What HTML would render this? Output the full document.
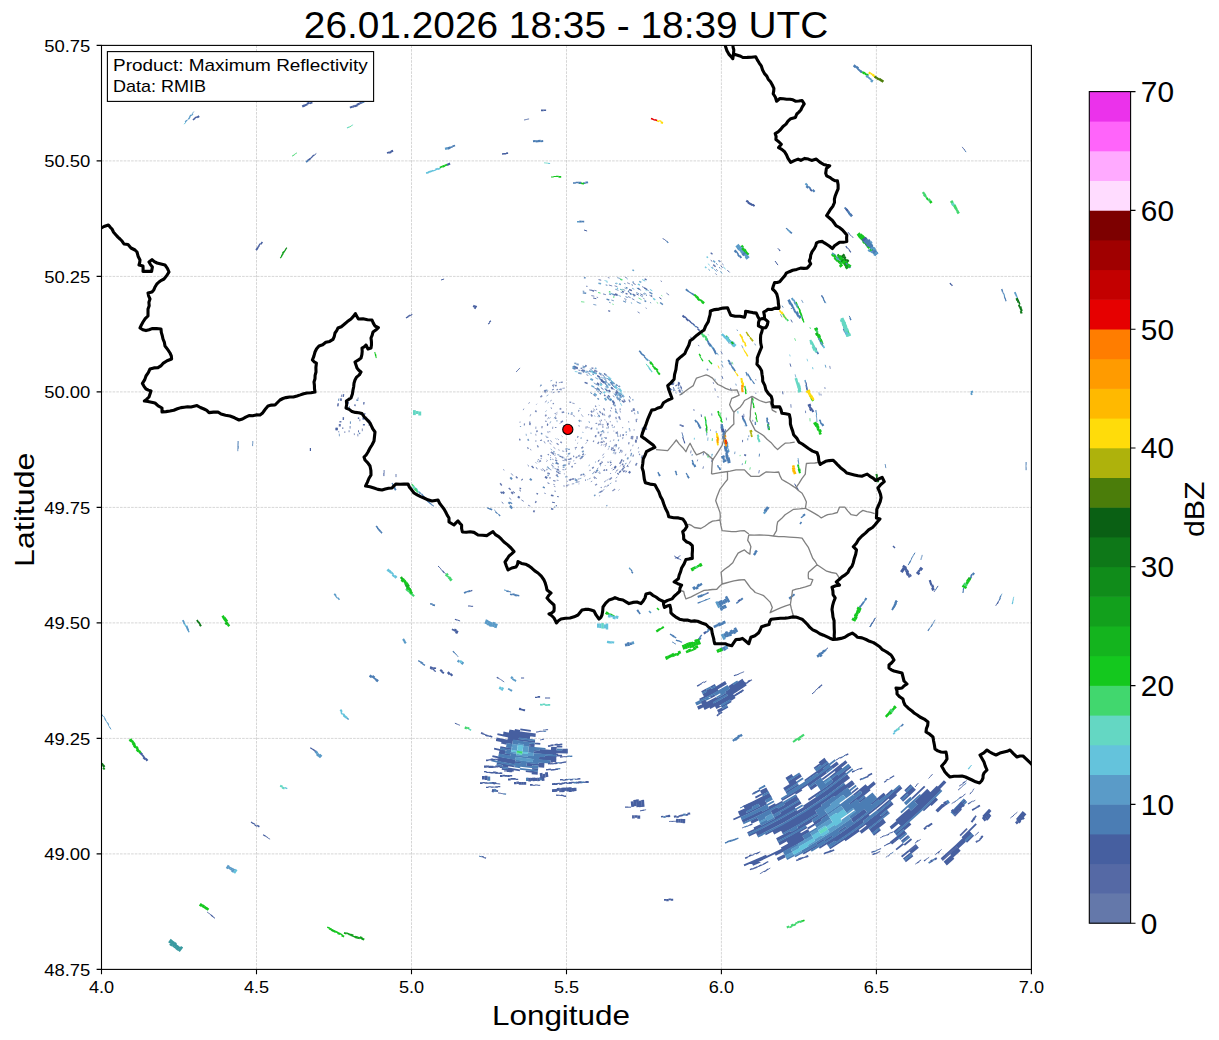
<!DOCTYPE html>
<html><head><meta charset="utf-8"><title>Radar Maximum Reflectivity</title>
<style>html,body{margin:0;padding:0;background:#fff}svg{display:block}text{font-family:"Liberation Sans",sans-serif}</style></head><body>
<svg width="1219" height="1040" viewBox="0 0 1219 1040">
<rect width="1219" height="1040" fill="#fff"/>
<clipPath id="ax"><rect x="101.5" y="45.4" width="929.9" height="924.0"/></clipPath>
<g clip-path="url(#ax)">
<path d="M256.5 45.4V969.4M411.5 45.4V969.4M566.5 45.4V969.4M721.4 45.4V969.4M876.4 45.4V969.4M101.5 853.9H1031.4M101.5 738.4H1031.4M101.5 622.9H1031.4M101.5 507.4H1031.4M101.5 391.9H1031.4M101.5 276.4H1031.4M101.5 160.9H1031.4" fill="none" stroke="#b0b0b0" stroke-opacity="0.75" stroke-width="0.7" stroke-dasharray="2.6 1.1"/>
<g id="radar">
<path d="M556.5 414.5L557.3 413.9M562.5 436.6L561.6 435.8M541.9 434.7L541.5 432.7M559.8 423.8L560.8 422.5M551.1 444.6L549.6 442.8M578.1 442.8L577.2 443.5M555.4 416.2L556.1 415.6M581.2 414.5L582.6 415.9M548.1 433.1L547.9 431.1M580.7 420.2L581.4 421.4M570.4 414.1L572.6 414.6M573.0 415.5L574.9 416.4M555.4 448.7L553.4 447.2M551.9 442.3L550.4 440.2M552.6 428.9L552.8 426.7M535.8 428.9L535.9 426.6M572.3 403.1L574.6 403.6M582.4 415.8L583.1 416.6M566.3 449.2L565.4 449.1" fill="none" stroke="#465fa0" stroke-width="0.8" stroke-opacity="0.75"/>
<path d="M547.6 419.2L548.8 417.1M570.1 453.8L568.3 453.9M547.2 425.0L547.6 423.2M558.9 439.9L557.6 438.7M548.1 437.7L547.7 436.7M586.6 442.4L585.7 443.6M549.9 432.3L549.7 431.0M578.8 425.0L579.3 426.7M556.2 413.1L557.4 412.3M588.9 427.0L589.0 428.2M576.0 439.8L575.2 440.4M585.8 426.6L586.0 428.8" fill="none" stroke="#5569a5" stroke-width="0.8" stroke-opacity="0.75"/>
<path d="M588.9 421.1L589.6 423.0M546.5 437.4L545.9 435.7M580.5 455.9L579.3 456.5M554.0 418.2L555.3 416.7M549.5 418.6L550.4 417.3M547.5 403.1L548.9 402.0M575.9 449.1L575.1 449.4M549.9 423.3L550.8 421.3M556.5 439.4L555.6 438.3" fill="none" stroke="#4b7db4" stroke-width="0.8" stroke-opacity="0.75"/>
<path d="M545.7 421.7L546.1 420.8M555.1 418.8L556.3 417.6M587.7 439.9L587.0 441.0M587.1 426.5L587.2 427.5M560.8 422.3L562.9 420.8M548.6 441.5L547.9 440.3M578.3 410.5L579.2 411.1M555.7 428.0L555.8 427.2M583.2 446.9L581.4 448.4M561.7 412.6L564.2 411.9" fill="none" stroke="#465fa0" stroke-width="1.6" stroke-opacity="0.75"/>
<path d="M568.0 413.5L569.1 413.5M578.8 420.0L580.1 421.8M541.7 434.2L541.5 433.2M571.2 412.8L572.6 413.2" fill="none" stroke="#4b7db4" stroke-width="1.6" stroke-opacity="0.75"/>
<path d="M569.4 402.2L571.2 402.4M558.6 444.7L556.6 443.3M547.4 425.9L547.8 424.0M554.8 413.9L555.6 413.3M578.3 436.2L577.3 437.6M547.3 437.9L547.0 437.1" fill="none" stroke="#465fa0" stroke-width="1.2000000000000002" stroke-opacity="0.75"/>
<path d="M559.6 409.2L561.3 408.5M561.9 442.7L560.3 441.9M577.2 457.2L575.6 457.7" fill="none" stroke="#5569a5" stroke-width="1.6" stroke-opacity="0.75"/>
<path d="M583.0 431.8L582.8 432.6M567.7 448.9L565.7 448.8M569.9 449.3L568.1 449.4M579.6 408.3L580.4 408.8M556.6 421.3L557.3 420.4M581.5 437.5L580.7 438.7" fill="none" stroke="#4b7db4" stroke-width="1.2000000000000002" stroke-opacity="0.75"/>
<path d="M563.3 426.2L563.8 425.5" fill="none" stroke="#5569a5" stroke-width="1.2000000000000002" stroke-opacity="0.75"/>
<path d="M602.1 437.7L601.6 439.6M601.3 431.0L601.2 432.4M598.9 415.1L599.7 416.9" fill="none" stroke="#4b7db4" stroke-width="1.2000000000000002" stroke-opacity="0.75"/>
<path d="M591.0 414.4L592.3 416.5M598.6 431.6L598.4 433.6M596.3 422.9L596.4 423.8M595.9 435.1L595.4 437.2M591.3 428.0L591.3 429.4M591.0 410.7L592.3 412.4M606.2 437.2L605.8 438.9" fill="none" stroke="#465fa0" stroke-width="1.6" stroke-opacity="0.75"/>
<path d="M603.9 431.6L603.8 433.2M597.8 416.2L598.2 417.2M597.2 412.7L597.9 413.9M604.3 444.2L603.7 445.4M601.2 419.5L601.7 421.1M608.3 426.1L608.4 428.4M601.8 433.5L601.6 434.7M598.3 423.6L598.7 425.6M600.7 423.5L601.0 425.2M606.4 421.4L606.7 422.6M610.5 440.6L610.2 441.8M593.5 408.6L594.9 410.6M591.8 427.1L591.9 428.6M601.9 444.2L601.2 445.7M603.9 413.5L604.9 415.8" fill="none" stroke="#465fa0" stroke-width="0.8" stroke-opacity="0.75"/>
<path d="M601.5 441.3L600.8 443.1M606.6 442.9L605.7 445.3M602.6 424.6L602.7 425.4M593.4 411.3L593.9 412.0M593.9 440.4L593.2 442.0M608.8 415.6L609.2 416.9M604.3 441.0L603.8 442.2" fill="none" stroke="#5569a5" stroke-width="1.2000000000000002" stroke-opacity="0.75"/>
<path d="M598.3 442.5L597.7 443.9M599.5 411.0L600.7 413.1M595.2 405.7L596.1 406.8M601.9 412.8L602.9 415.1M596.3 408.8L596.9 409.7M588.4 414.3L588.9 415.1M607.3 423.4L607.6 425.8M598.9 441.8L598.3 443.3M599.7 423.5L599.9 424.9M602.8 426.3L602.9 427.7" fill="none" stroke="#465fa0" stroke-width="1.2000000000000002" stroke-opacity="0.75"/>
<path d="M598.9 404.9L599.4 405.6M596.9 427.8L597.0 429.9M606.9 427.2L607.0 429.0M593.1 410.0L593.6 410.7M598.0 414.3L598.9 416.3M608.0 431.7L607.9 433.2M604.5 437.0L604.2 438.1M594.5 415.5L595.1 416.6" fill="none" stroke="#4b7db4" stroke-width="0.8" stroke-opacity="0.75"/>
<path d="M602.9 430.1L602.8 432.1" fill="none" stroke="#4b7db4" stroke-width="1.6" stroke-opacity="0.75"/>
<path d="M606.1 445.0L605.1 447.1M604.7 419.2L605.1 420.5M602.9 423.9L603.1 425.2M602.6 413.9L603.2 415.4M599.8 420.1L600.5 422.5M603.3 440.5L602.4 442.9" fill="none" stroke="#5569a5" stroke-width="0.8" stroke-opacity="0.75"/>
<path d="M602.0 442.0L601.7 442.8M607.8 422.8L608.1 425.2M600.8 434.2L600.4 436.4" fill="none" stroke="#5569a5" stroke-width="1.6" stroke-opacity="0.75"/>
<path d="M621.2 449.8L620.4 451.6M613.2 403.9L613.9 405.1M581.9 474.6L580.8 474.9M585.9 480.0L585.1 480.2M577.4 480.7L576.4 480.9M604.9 469.7L603.9 470.6M619.1 416.4L619.7 418.8M614.9 449.4L614.2 451.0M613.3 447.5L612.7 448.8M616.5 431.9L616.4 433.7M571.0 479.9L568.8 480.0M593.8 467.2L592.1 468.3M623.3 434.2L623.1 436.0" fill="none" stroke="#465fa0" stroke-width="1.6" stroke-opacity="0.75"/>
<path d="M574.2 483.7L571.8 484.0M616.7 411.9L617.4 413.9M596.0 471.9L594.9 472.6M569.3 484.9L567.6 485.0M579.7 478.8L577.7 479.2M603.9 453.6L602.5 455.6M564.8 473.9L563.9 473.8M619.2 447.1L618.3 449.4M620.5 434.4L620.2 436.9M613.9 439.4L613.6 440.8M557.7 474.6L556.5 474.3M590.6 478.2L589.1 478.9M614.4 426.2L614.5 427.5M558.5 480.5L556.7 480.1M597.0 478.2L596.1 478.7M581.1 475.1L580.1 475.3M579.6 481.7L577.1 482.2M622.5 450.6L621.6 452.8M604.0 456.5L602.8 458.1M558.4 469.9L556.4 469.3M623.0 436.9L622.6 439.1M622.7 427.0L622.7 428.2M630.0 429.6L629.9 431.5M608.7 448.4L608.1 449.6M614.7 444.7L613.9 446.9M592.2 481.1L590.8 481.8M598.4 467.9L596.8 469.1M567.7 476.8L566.7 476.8M626.4 434.1L626.3 435.3" fill="none" stroke="#465fa0" stroke-width="0.8" stroke-opacity="0.75"/>
<path d="M567.7 485.6L566.1 485.5M616.4 444.1L615.7 446.3M613.6 449.6L613.0 450.9M612.0 447.5L611.6 448.5M602.5 461.6L601.7 462.4M557.8 475.8L555.8 475.3M572.7 479.3L570.1 479.5M574.1 478.9L572.0 479.1" fill="none" stroke="#5569a5" stroke-width="1.6" stroke-opacity="0.75"/>
<path d="M615.5 410.6L616.4 412.9M575.7 478.9L574.7 479.1M614.5 404.7L615.4 406.4M577.2 479.9L574.8 480.3" fill="none" stroke="#4b7db4" stroke-width="1.6" stroke-opacity="0.75"/>
<path d="M617.0 420.6L617.3 422.3M594.1 472.7L592.0 473.9M617.7 433.2L617.5 435.6M614.3 451.5L613.2 453.6M616.7 445.1L615.9 447.4M608.9 416.6L609.3 418.2M605.6 465.2L604.9 465.9M557.7 471.3L556.3 470.9M588.3 479.4L587.2 479.8M599.8 471.6L598.3 472.8M581.4 478.2L579.9 478.6M601.1 465.2L600.0 466.2M609.1 461.8L608.5 462.6" fill="none" stroke="#4b7db4" stroke-width="0.8" stroke-opacity="0.75"/>
<path d="M612.6 467.7L611.5 468.9M604.3 469.8L603.2 470.8M616.1 452.6L615.2 454.4M555.4 486.7L553.9 486.3M579.4 483.8L578.5 484.0M565.1 486.1L563.1 485.9M615.5 451.9L614.6 453.6M554.9 484.7L553.2 484.3M610.2 421.0L610.4 422.3M618.8 416.6L619.1 417.8M619.9 410.5L620.6 412.5M595.2 471.4L593.3 472.5M610.3 410.0L610.9 411.5M617.5 431.3L617.4 433.7M613.8 430.6L613.8 431.5M585.4 475.7L583.9 476.3" fill="none" stroke="#5569a5" stroke-width="0.8" stroke-opacity="0.75"/>
<path d="M611.1 407.4L611.7 408.8M612.1 424.6L612.3 426.2M608.3 461.7L607.6 462.6M620.0 418.7L620.3 419.9M590.5 470.1L589.5 470.7M595.9 477.5L594.2 478.5M567.6 481.3L566.5 481.3M597.3 471.4L595.2 472.8M615.3 408.6L616.0 410.3M615.8 416.8L616.3 419.1" fill="none" stroke="#5569a5" stroke-width="1.2000000000000002" stroke-opacity="0.75"/>
<path d="M594.9 476.8L593.6 477.6M555.5 481.2L553.1 480.5M584.5 474.2L582.6 474.9M603.5 408.3L604.7 410.5M618.0 435.6L617.9 436.8M565.8 469.3L565.0 469.2M600.4 472.8L599.4 473.5M609.8 414.8L610.4 416.6M619.9 408.5L620.4 409.8M612.0 448.5L611.2 450.2" fill="none" stroke="#465fa0" stroke-width="1.2000000000000002" stroke-opacity="0.75"/>
<path d="M613.0 427.0L613.1 427.8M618.7 439.5L618.3 441.2M577.1 482.0L575.6 482.3M609.5 445.9L608.9 447.4M619.8 452.1L619.5 453.0M566.8 476.9L565.2 476.9M583.9 473.8L582.7 474.2" fill="none" stroke="#4b7db4" stroke-width="1.2000000000000002" stroke-opacity="0.75"/>
<path d="M619.6 395.4L620.8 397.4M620.5 392.9L621.9 395.1M605.0 380.8L607.6 382.8M617.6 392.3L618.8 393.8M603.8 374.0L606.6 376.0M614.0 393.4L616.3 396.5M586.5 371.0L588.7 371.8M609.4 384.0L610.6 385.2M618.3 394.1L619.8 396.3M582.6 366.0L585.9 366.9M620.2 399.1L621.1 400.5M587.3 372.7L589.7 373.6M605.3 381.1L607.1 382.5M589.8 368.9L591.7 369.6M618.8 399.6L620.0 401.7M606.8 378.0L608.7 379.5M608.9 378.4L611.9 381.0M572.8 366.7L576.1 367.0M572.5 368.4L575.6 368.7M605.2 383.9L608.2 386.5" fill="none" stroke="#4b7db4" stroke-width="1.0" stroke-opacity="0.75"/>
<path d="M618.5 397.7L620.1 400.3M616.7 396.9L618.6 399.8M615.9 384.4L617.2 385.8M593.6 372.2L596.8 373.7M589.0 370.9L591.0 371.6M615.3 393.6L616.4 395.1M612.1 381.8L614.6 384.2M597.6 376.1L599.6 377.3M578.2 372.8L581.6 373.6M581.6 370.5L585.2 371.4M576.4 364.2L578.8 364.6" fill="none" stroke="#4b7db4" stroke-width="1.8" stroke-opacity="0.75"/>
<path d="M582.7 372.1L584.2 372.5M586.4 374.7L588.3 375.4M617.1 384.8L618.8 386.8M611.0 381.2L613.2 383.3M599.8 379.1L602.6 381.0M623.8 398.9L625.3 401.8" fill="none" stroke="#5569a5" stroke-width="1.0" stroke-opacity="0.75"/>
<path d="M607.7 384.1L609.1 385.4M612.3 385.2L614.4 387.4M617.4 387.5L619.2 389.6M612.6 385.4L615.1 388.1M619.8 394.6L621.6 397.5M595.3 377.6L598.1 379.2M601.2 377.1L603.4 378.5M573.6 365.9L575.1 366.1M606.6 375.6L609.0 377.4M616.4 388.5L618.2 390.7M605.3 386.8L607.2 388.5M616.0 391.4L617.4 393.3" fill="none" stroke="#5a9bc8" stroke-width="1.0" stroke-opacity="0.75"/>
<path d="M574.4 367.6L578.0 368.1M591.4 367.8L593.4 368.5M580.6 368.1L582.3 368.5M603.3 381.5L606.1 383.7M605.1 388.7L607.6 391.1M591.5 371.0L594.5 372.4" fill="none" stroke="#465fa0" stroke-width="1.4" stroke-opacity="0.75"/>
<path d="M621.8 395.3L622.7 396.7M624.2 400.7L624.8 402.0M593.4 371.9L594.8 372.5M575.8 368.0L577.9 368.3" fill="none" stroke="#5569a5" stroke-width="1.8" stroke-opacity="0.75"/>
<path d="M618.9 385.7L620.0 387.1M574.3 363.2L576.3 363.5M598.9 378.2L601.6 379.9M582.6 367.2L584.7 367.7M572.6 366.8L576.1 367.1M598.9 372.8L601.7 374.4" fill="none" stroke="#4b7db4" stroke-width="1.4" stroke-opacity="0.75"/>
<path d="M578.4 370.1L580.1 370.4M597.1 375.5L599.4 376.8M599.9 382.6L602.3 384.3M603.8 378.6L606.5 380.6M592.2 374.0L594.0 374.8M623.0 401.0L624.0 403.0M629.3 396.1L630.5 398.5M582.1 369.7L585.0 370.4M597.2 375.7L600.6 377.7M602.2 374.8L604.6 376.4M580.7 370.4L583.8 371.2M574.0 366.8L577.4 367.2M611.0 383.6L613.8 386.4M613.2 388.6L614.5 390.1M619.0 393.3L620.8 396.1" fill="none" stroke="#465fa0" stroke-width="1.0" stroke-opacity="0.75"/>
<path d="M573.4 368.8L575.5 369.0" fill="none" stroke="#5569a5" stroke-width="1.4" stroke-opacity="0.75"/>
<path d="M614.8 385.4L616.4 387.2M618.5 391.9L619.9 394.0M591.1 371.2L592.6 371.8" fill="none" stroke="#64c3dc" stroke-width="1.4" stroke-opacity="0.75"/>
<path d="M620.8 391.9L622.5 394.5M620.3 402.8L621.8 405.8M591.5 370.9L593.8 371.8M589.0 374.4L591.8 375.6M591.9 372.6L594.0 373.5M591.3 372.1L592.7 372.7M611.3 380.5L612.7 381.8M574.8 371.5L577.6 371.9" fill="none" stroke="#64c3dc" stroke-width="1.0" stroke-opacity="0.75"/>
<path d="M594.9 368.0L596.5 368.8M622.6 395.0L624.0 397.3M608.3 378.8L610.4 380.6M572.5 367.8L574.6 368.0M620.0 396.4L621.1 398.2M619.6 393.2L620.8 395.0M611.2 381.6L612.8 383.1M585.4 371.8L587.0 372.4M616.6 394.2L618.1 396.3M606.0 385.6L608.4 387.8" fill="none" stroke="#5a9bc8" stroke-width="1.8" stroke-opacity="0.75"/>
<path d="M622.3 400.3L623.1 401.9M585.0 365.7L586.7 366.2M594.2 370.3L597.3 371.7M601.1 379.6L602.5 380.6M615.6 391.9L617.2 394.0" fill="none" stroke="#465fa0" stroke-width="1.8" stroke-opacity="0.75"/>
<path d="M608.5 377.3L611.1 379.4M594.1 372.8L595.8 373.6" fill="none" stroke="#64c3dc" stroke-width="1.8" stroke-opacity="0.75"/>
<path d="M603.5 376.7L606.6 379.0" fill="none" stroke="#5a9bc8" stroke-width="1.4" stroke-opacity="0.75"/>
<path d="M595.5 495.1L594.0 495.7M628.3 457.3L627.3 459.4M626.3 431.5L626.2 432.8" fill="none" stroke="#4b7db4" stroke-width="1.6" stroke-opacity="0.75"/>
<path d="M621.4 461.2L619.6 463.9M636.9 463.0L635.6 465.6M636.0 439.6L635.6 441.9M631.7 410.2L632.1 411.7M623.7 467.7L621.7 470.4M602.5 490.9L599.7 492.4M633.2 408.5L633.9 410.9M643.1 427.6L643.1 430.7" fill="none" stroke="#465fa0" stroke-width="1.6" stroke-opacity="0.75"/>
<path d="M634.1 429.2L634.1 430.6M606.5 480.3L604.0 482.1M633.9 408.0L634.8 410.9M628.6 421.1L628.8 422.6M619.5 489.5L618.5 490.4M639.0 451.2L638.5 452.6M631.5 452.8L631.0 454.1M604.4 489.5L602.6 490.5M638.6 447.2L638.2 448.7M608.5 479.1L607.2 480.1M633.1 444.6L632.7 446.3M608.3 485.4L606.4 486.8M636.9 418.6L637.1 419.9M617.3 476.8L615.9 478.3M616.2 471.8L615.4 472.7M634.4 412.5L634.9 414.4" fill="none" stroke="#465fa0" stroke-width="0.8" stroke-opacity="0.75"/>
<path d="M600.0 492.2L598.6 492.9M611.3 482.9L609.8 484.0" fill="none" stroke="#4b7db4" stroke-width="0.8" stroke-opacity="0.75"/>
<path d="M639.8 453.7L639.3 455.1M615.2 488.9L612.4 491.0M597.1 484.1L595.0 485.2M636.1 419.1L636.5 422.1M633.6 454.6L632.8 456.7" fill="none" stroke="#5569a5" stroke-width="1.2000000000000002" stroke-opacity="0.75"/>
<path d="M629.1 442.2L628.6 444.4M616.4 480.6L615.5 481.5M608.7 484.9L607.7 485.6M601.7 487.2L600.7 487.8M628.8 399.5L630.1 402.3M642.4 455.3L641.3 458.2M624.8 466.7L624.0 467.9" fill="none" stroke="#465fa0" stroke-width="1.2000000000000002" stroke-opacity="0.75"/>
<path d="M631.7 453.3L630.6 456.3M632.6 399.1L633.2 400.5M629.3 428.1L629.4 429.6M607.4 505.4L606.3 505.9M637.6 411.2L638.2 413.9" fill="none" stroke="#4b7db4" stroke-width="1.2000000000000002" stroke-opacity="0.75"/>
<path d="M642.5 427.7L642.5 430.7M632.7 435.8L632.3 439.3M636.3 440.2L635.8 442.9M646.3 427.6L646.3 429.9M611.9 477.5L609.4 479.7M631.7 436.0L631.3 439.1M637.2 436.2L636.9 439.3M628.2 465.8L627.6 466.7" fill="none" stroke="#5569a5" stroke-width="1.6" stroke-opacity="0.75"/>
<path d="M606.1 485.9L603.9 487.3M600.1 495.5L599.1 496.0M620.8 465.3L620.1 466.4M631.0 449.2L630.3 451.3M626.0 453.8L625.1 455.9M630.7 460.6L629.1 463.6" fill="none" stroke="#5569a5" stroke-width="0.8" stroke-opacity="0.75"/>
<path d="M564.5 460.7L562.4 460.4M564.2 451.4L562.0 450.9M576.1 463.3L574.1 463.7M550.9 455.8L550.0 455.2M570.7 461.9L568.3 462.0M580.0 455.0L578.0 455.8" fill="none" stroke="#5569a5" stroke-width="0.8" stroke-opacity="0.75"/>
<path d="M552.1 452.9L550.8 452.0M582.1 457.6L579.8 458.7" fill="none" stroke="#5569a5" stroke-width="1.6" stroke-opacity="0.75"/>
<path d="M559.6 450.3L558.3 449.7M554.1 454.9L552.4 453.9M574.3 460.7L573.2 461.0M577.6 456.7L576.7 457.0M555.8 454.0L554.5 453.3M562.4 457.0L560.0 456.4M579.4 456.0L578.1 456.5M566.7 459.2L564.4 459.1M585.4 454.6L584.7 455.1M556.7 458.4L555.0 457.7" fill="none" stroke="#465fa0" stroke-width="0.8" stroke-opacity="0.75"/>
<path d="M557.4 463.7L555.2 463.0M569.5 453.8L567.8 453.8M559.4 455.3L557.4 454.5M551.2 459.8L550.1 459.2M564.5 467.4L562.7 467.2M568.3 456.1L567.4 456.1M565.6 465.0L564.6 464.9" fill="none" stroke="#4b7db4" stroke-width="1.2000000000000002" stroke-opacity="0.75"/>
<path d="M567.0 460.2L564.5 460.0M551.0 457.8L550.3 457.4M555.3 455.4L554.6 455.0M548.9 455.1L547.7 454.2M583.6 456.0L581.4 457.1" fill="none" stroke="#465fa0" stroke-width="1.2000000000000002" stroke-opacity="0.75"/>
<path d="M570.3 459.3L567.8 459.4M561.1 456.7L559.3 456.2M576.9 447.2L574.8 448.1M570.0 463.9L568.0 463.9" fill="none" stroke="#5569a5" stroke-width="1.2000000000000002" stroke-opacity="0.75"/>
<path d="M567.1 451.1L565.8 451.0M563.4 457.6L561.6 457.2M557.2 460.9L555.2 460.1M572.9 466.6L571.3 466.8M571.6 458.6L569.8 458.8M574.2 456.3L573.1 456.5M583.9 453.9L582.3 454.9M553.8 453.7L552.0 452.6" fill="none" stroke="#465fa0" stroke-width="1.6" stroke-opacity="0.75"/>
<path d="M554.5 452.1L553.3 451.4M583.8 450.8L582.0 452.0M565.7 465.4L563.1 465.2M582.6 456.7L581.7 457.2" fill="none" stroke="#4b7db4" stroke-width="1.6" stroke-opacity="0.75"/>
<path d="M552.2 450.2L550.6 448.9M570.4 453.1L568.7 453.3M564.6 458.0L563.6 457.9M584.0 452.9L583.3 453.3" fill="none" stroke="#4b7db4" stroke-width="0.8" stroke-opacity="0.75"/>
<path d="M563.5 465.6L562.6 465.5M541.0 461.5L539.6 460.3M557.2 471.8L556.1 471.5M545.2 471.1L543.9 470.4" fill="none" stroke="#465fa0" stroke-width="1.2000000000000002" stroke-opacity="0.75"/>
<path d="M547.8 460.8L546.6 460.0M546.9 461.8L546.2 461.3M559.4 472.7L558.0 472.4" fill="none" stroke="#5569a5" stroke-width="0.8" stroke-opacity="0.75"/>
<path d="M551.4 470.0L550.0 469.4M536.7 463.4L535.6 462.3M559.0 467.0L558.0 466.8M558.5 467.0L557.7 466.8M553.1 465.7L551.0 464.8M554.2 467.1L552.4 466.4M553.6 459.7L552.2 459.1M564.5 469.8L562.4 469.6M542.6 470.6L540.7 469.4M559.7 471.2L557.4 470.7M559.1 472.8L557.0 472.4M553.8 463.9L552.0 463.1M556.4 469.0L554.5 468.4" fill="none" stroke="#465fa0" stroke-width="0.8" stroke-opacity="0.75"/>
<path d="M548.8 475.7L547.4 475.1M549.9 469.0L548.3 468.2M558.5 476.6L557.0 476.3M548.8 467.7L546.9 466.7" fill="none" stroke="#4b7db4" stroke-width="1.2000000000000002" stroke-opacity="0.75"/>
<path d="M538.6 460.1L538.0 459.4M547.4 469.8L546.5 469.3M541.9 456.7L540.5 455.4M558.7 463.9L556.6 463.3M549.8 474.1L547.4 473.0" fill="none" stroke="#465fa0" stroke-width="1.6" stroke-opacity="0.75"/>
<path d="M553.3 468.2L552.4 467.9M560.8 471.8L559.6 471.6M538.4 462.2L537.1 461.0" fill="none" stroke="#4b7db4" stroke-width="0.8" stroke-opacity="0.75"/>
<path d="M539.8 462.0L539.1 461.4M541.5 458.9L540.8 458.2" fill="none" stroke="#5569a5" stroke-width="1.2000000000000002" stroke-opacity="0.75"/>
<path d="M559.0 469.7L557.0 469.3" fill="none" stroke="#5569a5" stroke-width="1.6" stroke-opacity="0.75"/>
<path d="M528.5 403.8L529.7 402.1M530.0 416.3L530.8 414.2M531.1 450.4L530.3 448.9M536.0 435.7L535.7 433.8M529.5 423.4L529.9 421.1" fill="none" stroke="#5569a5" stroke-width="0.8" stroke-opacity="0.75"/>
<path d="M541.9 428.2L542.1 426.0M524.3 425.5L524.5 423.4M556.5 389.8L558.1 389.4" fill="none" stroke="#5569a5" stroke-width="1.2000000000000002" stroke-opacity="0.75"/>
<path d="M544.9 402.3L546.9 400.7M519.8 439.9L519.6 438.5M519.9 422.8L520.1 421.5M550.2 401.1L551.7 400.2M523.2 410.1L523.9 408.6M536.3 404.6L537.0 403.8M545.2 443.4L544.0 441.2" fill="none" stroke="#465fa0" stroke-width="0.8" stroke-opacity="0.75"/>
<path d="M529.8 425.1L530.2 422.6M537.0 432.1L536.9 430.4M551.0 408.4L551.6 407.8M541.5 440.6L541.1 439.7M535.5 412.0L536.3 410.5" fill="none" stroke="#465fa0" stroke-width="1.6" stroke-opacity="0.75"/>
<path d="M540.4 397.1L542.2 395.7M540.9 440.8L540.6 440.0M545.3 416.3L546.3 414.7" fill="none" stroke="#5569a5" stroke-width="1.6" stroke-opacity="0.75"/>
<path d="M526.4 435.8L526.1 433.8M545.5 411.7L546.5 410.5M531.1 434.0L530.9 432.5" fill="none" stroke="#4b7db4" stroke-width="0.8" stroke-opacity="0.75"/>
<path d="M528.4 449.1L527.5 447.2M557.9 392.0L559.8 391.6M520.0 440.6L519.7 439.0M536.1 441.6L535.6 440.4M552.7 403.9L553.9 403.2M538.4 447.4L537.3 445.4" fill="none" stroke="#465fa0" stroke-width="1.2000000000000002" stroke-opacity="0.75"/>
<path d="M528.5 440.9L528.0 438.9" fill="none" stroke="#4b7db4" stroke-width="1.6" stroke-opacity="0.75"/>
<path d="M520.5 427.1L520.5 426.1M545.5 390.8L547.3 389.7" fill="none" stroke="#4b7db4" stroke-width="1.2000000000000002" stroke-opacity="0.75"/>
<path d="M562.4 388.3L564.9 388.1M545.0 393.0L546.4 392.2M539.9 386.4L541.4 385.5M558.8 382.7L560.6 382.4" fill="none" stroke="#5569a5" stroke-width="0.8" stroke-opacity="0.75"/>
<path d="M555.0 385.8L556.7 385.4M544.1 391.2L545.7 390.3M555.8 382.6L556.9 382.4" fill="none" stroke="#465fa0" stroke-width="1.6" stroke-opacity="0.75"/>
<path d="M552.0 390.0L553.8 389.3M552.2 385.6L554.5 384.8M560.8 382.4L562.8 382.2" fill="none" stroke="#465fa0" stroke-width="1.2000000000000002" stroke-opacity="0.75"/>
<path d="M560.5 389.6L561.7 389.4" fill="none" stroke="#5569a5" stroke-width="1.6" stroke-opacity="0.75"/>
<path d="M551.3 392.0L552.2 391.6M552.6 392.9L554.5 392.2M546.9 391.4L548.2 390.8M544.1 392.3L546.2 391.0M559.0 389.5L561.1 389.1" fill="none" stroke="#465fa0" stroke-width="0.8" stroke-opacity="0.75"/>
<path d="M553.0 386.9L553.9 386.5" fill="none" stroke="#5569a5" stroke-width="1.2000000000000002" stroke-opacity="0.75"/>
<path d="M550.3 381.0L552.2 380.3M546.5 396.0L548.4 394.8" fill="none" stroke="#4b7db4" stroke-width="0.8" stroke-opacity="0.75"/>
<path d="M540.3 385.6L541.6 384.9" fill="none" stroke="#4b7db4" stroke-width="1.2000000000000002" stroke-opacity="0.75"/>
<path d="M528.8 466.2L527.7 465.1M554.9 502.7L552.0 502.2M555.7 491.3L554.5 491.1M549.4 483.5L547.5 482.8M537.5 468.8L535.9 467.5M515.0 493.1L513.1 491.5" fill="none" stroke="#465fa0" stroke-width="1.0" stroke-opacity="0.9"/>
<path d="M553.5 495.8L550.9 495.2M538.0 494.1L536.5 493.4M553.3 509.2L551.0 508.7M556.8 505.7L555.8 505.6M502.3 493.6L500.6 491.8M533.6 467.9L531.6 466.1" fill="none" stroke="#465fa0" stroke-width="1.4" stroke-opacity="0.9"/>
<path d="M557.6 463.0L556.0 462.4M555.3 507.2L554.1 507.0" fill="none" stroke="#4b7db4" stroke-width="1.0" stroke-opacity="0.9"/>
<path d="M530.3 506.2L528.0 505.1M511.3 499.6L509.1 497.8M560.6 473.6L558.1 473.2" fill="none" stroke="#5569a5" stroke-width="0.8" stroke-opacity="0.9"/>
<path d="M510.2 503.6L508.4 502.2M511.7 507.1L509.8 505.7M512.0 479.3L510.3 477.4M531.7 480.3L529.8 478.8M512.3 508.4L510.1 506.8" fill="none" stroke="#4b7db4" stroke-width="2.0" stroke-opacity="0.9"/>
<path d="M558.9 496.8L557.0 496.5M521.0 488.9L519.7 487.9M521.0 491.3L519.3 490.0M503.4 503.5L501.7 502.1" fill="none" stroke="#5569a5" stroke-width="1.0" stroke-opacity="0.9"/>
<path d="M512.1 503.7L510.1 502.2M544.9 487.9L542.8 487.0" fill="none" stroke="#4b7db4" stroke-width="1.4" stroke-opacity="0.9"/>
<path d="M522.4 480.0L521.7 479.3M519.7 497.9L517.8 496.5M504.3 493.5L502.5 491.7M547.3 478.0L545.0 476.9" fill="none" stroke="#465fa0" stroke-width="2.0" stroke-opacity="0.9"/>
<path d="M512.9 475.5L511.2 473.4M543.8 469.6L542.3 468.7M523.8 501.4L521.4 499.9M545.7 493.6L544.3 493.1M504.1 470.4L503.5 469.3" fill="none" stroke="#465fa0" stroke-width="0.8" stroke-opacity="0.9"/>
<path d="M517.5 478.3L515.9 476.5M550.6 478.2L549.4 477.7M501.8 485.5L500.1 483.3M510.7 489.8L508.7 487.9M521.0 489.0L519.8 488.0" fill="none" stroke="#5569a5" stroke-width="1.4" stroke-opacity="0.9"/>
<path d="M534.8 511.7L533.2 511.0M536.4 502.3L535.2 501.7M513.2 493.8L511.3 492.1" fill="none" stroke="#5569a5" stroke-width="2.0" stroke-opacity="0.9"/>
<path d="M645.8 295.0L646.9 295.7M594.3 290.3L596.6 290.8M586.0 286.2L587.6 286.4M591.3 295.6L594.3 296.2M645.6 307.8L646.7 308.5M637.6 311.8L639.7 313.1M625.1 277.2L626.8 277.9M608.9 285.0L612.2 286.0M613.0 294.1L615.1 294.8M643.3 298.3L644.6 299.1M603.0 293.9L605.9 294.7M638.9 289.2L641.1 290.3M631.9 298.6L634.4 299.9M614.6 285.8L617.4 286.7M666.4 293.1L669.1 295.1M659.9 298.1L661.1 298.9M627.9 296.5L630.6 297.7" fill="none" stroke="#465fa0" stroke-width="0.8" stroke-opacity="0.9"/>
<path d="M659.2 297.4L661.5 299.0M649.5 295.2L652.3 296.9M640.3 293.8L643.1 295.3M598.5 279.6L601.2 280.2M633.3 283.4L635.6 284.5" fill="none" stroke="#5569a5" stroke-width="1.0" stroke-opacity="0.9"/>
<path d="M582.8 292.9L586.2 293.3M627.9 291.0L629.1 291.5M583.9 277.7L585.7 277.9M606.5 299.2L609.3 300.0M660.1 302.5L662.9 304.6M644.5 300.7L646.2 301.7M632.5 281.8L633.8 282.4M649.4 292.2L652.4 294.0" fill="none" stroke="#4b7db4" stroke-width="1.4" stroke-opacity="0.9"/>
<path d="M644.0 292.9L646.5 294.3M609.0 302.2L610.7 302.8M616.0 294.7L617.6 295.3M650.0 302.3L651.2 303.1M636.3 292.4L639.1 293.9M625.0 300.6L626.2 301.1M615.2 289.2L618.5 290.4M615.2 283.4L616.9 283.9M643.1 293.5L644.7 294.5M640.0 295.3L642.9 296.9M645.7 289.0L648.8 290.8M622.4 289.3L625.2 290.4M611.3 300.0L613.9 300.8M624.5 287.8L627.0 288.9M620.6 292.1L622.8 293.0M617.2 277.6L620.4 278.6M593.3 304.4L596.3 305.1" fill="none" stroke="#4b7db4" stroke-width="0.8" stroke-opacity="0.9"/>
<path d="M625.8 287.2L627.8 288.1M582.7 291.2L584.3 291.3M605.7 284.9L607.4 285.3M612.3 294.5L615.1 295.4M651.0 295.1L652.3 295.8M624.3 283.4L625.5 283.9M623.1 301.0L626.0 302.3M631.5 284.7L633.0 285.3M636.7 301.7L639.8 303.4M625.5 296.6L627.7 297.6" fill="none" stroke="#4b7db4" stroke-width="1.0" stroke-opacity="0.9"/>
<path d="M638.5 298.0L641.6 299.7M620.9 289.6L622.7 290.2M661.3 295.3L662.3 296.0M656.7 302.4L658.1 303.4M612.3 304.0L613.7 304.5M581.0 301.7L584.4 302.1" fill="none" stroke="#41d76e" stroke-width="0.8" stroke-opacity="0.9"/>
<path d="M642.0 286.5L645.1 288.2M629.7 293.7L631.3 294.4M624.2 298.6L626.5 299.6M596.7 297.2L598.1 297.6M627.1 282.7L629.9 283.9M607.8 277.5L609.6 278.0M628.5 292.1L630.1 292.9M660.6 280.8L662.0 281.7" fill="none" stroke="#5569a5" stroke-width="0.8" stroke-opacity="0.9"/>
<path d="M618.9 283.8L621.0 284.5M609.0 293.8L611.3 294.5M598.4 283.2L601.1 283.8M639.2 281.4L641.3 282.4M632.4 270.0L634.1 270.7" fill="none" stroke="#5a9bc8" stroke-width="1.4" stroke-opacity="0.9"/>
<path d="M610.6 293.2L613.2 294.0M618.4 295.4L621.0 296.4M632.0 288.2L634.3 289.3M639.6 302.7L641.1 303.6M626.6 278.6L627.9 279.1M633.1 295.7L634.6 296.4" fill="none" stroke="#5a9bc8" stroke-width="0.8" stroke-opacity="0.9"/>
<path d="M642.1 279.5L645.2 281.1M645.5 290.1L646.6 290.7M649.9 289.4L652.3 290.8M636.8 288.1L638.7 289.1" fill="none" stroke="#64c3dc" stroke-width="1.0" stroke-opacity="0.9"/>
<path d="M615.8 282.9L617.8 283.5M604.5 280.5L607.5 281.3M606.1 281.8L607.9 282.3M630.2 294.0L632.0 294.8" fill="none" stroke="#64c3dc" stroke-width="0.8" stroke-opacity="0.9"/>
<path d="M589.3 289.9L591.7 290.3M636.3 293.9L638.7 295.1M591.3 290.2L593.8 290.7M593.1 298.0L596.3 298.7" fill="none" stroke="#465fa0" stroke-width="1.0" stroke-opacity="0.9"/>
<path d="M637.6 288.2L639.5 289.2M622.0 291.4L624.1 292.2M644.3 287.8L647.2 289.5M644.6 278.9L646.6 279.9M629.1 289.5L631.9 290.7M630.1 293.3L631.3 293.9M615.0 293.8L617.4 294.7M632.6 294.2L635.4 295.6M625.6 293.3L627.5 294.1" fill="none" stroke="#465fa0" stroke-width="1.4" stroke-opacity="0.9"/>
<path d="M620.0 289.2L621.5 289.8M630.9 302.7L632.1 303.3" fill="none" stroke="#5a9bc8" stroke-width="1.0" stroke-opacity="0.9"/>
<path d="M616.8 288.2L618.1 288.6M637.8 284.0L639.9 285.1M653.1 298.4L655.3 299.9" fill="none" stroke="#64c3dc" stroke-width="1.4" stroke-opacity="0.9"/>
<path d="M613.1 296.8L614.4 297.2M608.9 291.7L610.4 292.2M620.0 279.1L622.4 280.0" fill="none" stroke="#41d76e" stroke-width="1.4" stroke-opacity="0.9"/>
<path d="M614.6 294.3L617.5 295.3M608.2 310.6L610.2 311.3M592.6 291.1L593.8 291.3" fill="none" stroke="#5569a5" stroke-width="1.4" stroke-opacity="0.9"/>
<path d="M598.1 292.5L600.5 293.1" fill="none" stroke="#41d76e" stroke-width="1.0" stroke-opacity="0.9"/>
<path d="M719.0 267.2L720.3 268.4M716.0 263.3L717.6 264.7M718.0 260.4L720.0 262.1" fill="none" stroke="#4b7db4" stroke-width="1.0" stroke-opacity="0.9"/>
<path d="M720.2 271.4L722.3 273.4M708.4 269.2L710.0 270.6" fill="none" stroke="#5a9bc8" stroke-width="1.0" stroke-opacity="0.9"/>
<path d="M710.8 267.0L712.9 268.8M723.2 266.8L725.6 269.1" fill="none" stroke="#64c3dc" stroke-width="1.0" stroke-opacity="0.9"/>
<path d="M706.6 256.6L708.0 257.7M705.0 266.8L706.4 268.0" fill="none" stroke="#64c3dc" stroke-width="1.4" stroke-opacity="0.9"/>
<path d="M707.9 263.7L709.9 265.4" fill="none" stroke="#64c3dc" stroke-width="0.8" stroke-opacity="0.9"/>
<path d="M719.3 260.3L720.7 261.6M722.1 263.6L723.6 265.0" fill="none" stroke="#465fa0" stroke-width="0.8" stroke-opacity="0.9"/>
<path d="M714.1 269.2L716.7 271.6" fill="none" stroke="#5a9bc8" stroke-width="0.8" stroke-opacity="0.9"/>
<path d="M716.0 269.1L717.8 270.8M715.3 273.4L716.8 274.9" fill="none" stroke="#5569a5" stroke-width="0.8" stroke-opacity="0.9"/>
<path d="M712.0 266.8L713.5 268.2" fill="none" stroke="#4b7db4" stroke-width="0.8" stroke-opacity="0.9"/>
<path d="M727.3 270.1L729.6 272.4M710.7 260.2L712.2 261.4M720.6 265.7L722.6 267.6" fill="none" stroke="#465fa0" stroke-width="1.0" stroke-opacity="0.9"/>
<path d="M710.7 252.8L712.5 254.3" fill="none" stroke="#465fa0" stroke-width="1.4" stroke-opacity="0.9"/>
<path d="M713.1 260.6L715.2 262.4" fill="none" stroke="#5a9bc8" stroke-width="1.4" stroke-opacity="0.9"/>
<path d="M713.2 264.6L715.6 266.7" fill="none" stroke="#5569a5" stroke-width="1.4" stroke-opacity="0.9"/>
<path d="M603.2 380.9L605.9 382.9M599.3 390.5L602.3 393.1M604.6 388.6L606.2 390.2M614.3 385.8L615.9 387.6" fill="none" stroke="#5a9bc8" stroke-width="1.0" stroke-opacity="0.9"/>
<path d="M601.0 380.3L604.2 382.6M608.5 390.1L610.2 391.9M612.6 400.7L614.4 403.7M596.9 383.1L599.2 384.7M611.1 387.2L612.8 389.1" fill="none" stroke="#465fa0" stroke-width="2.0" stroke-opacity="0.9"/>
<path d="M590.3 392.6L592.2 393.8M611.0 398.7L613.0 401.9" fill="none" stroke="#4b7db4" stroke-width="1.0" stroke-opacity="0.9"/>
<path d="M604.1 373.3L606.7 375.0M600.8 387.5L603.5 389.7M593.2 394.6L595.4 396.4" fill="none" stroke="#465fa0" stroke-width="1.0" stroke-opacity="0.9"/>
<path d="M590.4 378.8L593.0 380.1M594.1 393.6L596.6 395.5M604.6 398.0L606.5 400.4" fill="none" stroke="#5a9bc8" stroke-width="2.0" stroke-opacity="0.9"/>
<path d="M615.3 386.7L616.8 388.5M600.0 384.1L601.8 385.5M619.2 388.7L621.4 391.6M603.7 391.7L605.0 393.0" fill="none" stroke="#64c3dc" stroke-width="2.0" stroke-opacity="0.9"/>
<path d="M597.5 398.2L598.9 399.6M610.2 382.0L612.7 384.4M606.9 396.5L609.1 399.3M599.7 393.1L601.0 394.3" fill="none" stroke="#4b7db4" stroke-width="1.4" stroke-opacity="0.9"/>
<path d="M597.2 384.8L599.3 386.2" fill="none" stroke="#5a9bc8" stroke-width="0.8" stroke-opacity="0.9"/>
<path d="M610.3 398.5L611.3 399.9" fill="none" stroke="#64c3dc" stroke-width="1.4" stroke-opacity="0.9"/>
<path d="M596.8 388.0L599.4 390.0M609.7 399.0L610.9 400.7" fill="none" stroke="#4b7db4" stroke-width="2.0" stroke-opacity="0.9"/>
<path d="M584.6 382.3L587.6 383.5M608.1 395.2L609.9 397.4M604.2 394.8L605.4 396.1" fill="none" stroke="#465fa0" stroke-width="1.4" stroke-opacity="0.9"/>
<path d="M604.3 383.1L607.3 385.6M593.8 382.9L597.0 384.9M596.3 390.2L598.9 392.2" fill="none" stroke="#4b7db4" stroke-width="0.8" stroke-opacity="0.9"/>
<path d="M594.2 387.7L597.1 389.7M613.1 395.5L614.3 397.2M606.1 389.9L607.3 391.1M599.5 374.1L601.4 375.3" fill="none" stroke="#465fa0" stroke-width="0.8" stroke-opacity="0.9"/>
<path d="M606.7 391.0L609.0 393.4M611.5 381.0L613.4 382.7" fill="none" stroke="#64c3dc" stroke-width="0.8" stroke-opacity="0.9"/>
<path d="M591.3 385.6L594.1 387.2M608.0 383.6L610.0 385.4" fill="none" stroke="#5a9bc8" stroke-width="1.4" stroke-opacity="0.9"/>
<path d="M599.3 390.4L601.5 392.3" fill="none" stroke="#5569a5" stroke-width="0.8" stroke-opacity="0.9"/>
<path d="M616.2 390.3L618.1 392.8" fill="none" stroke="#5569a5" stroke-width="1.4" stroke-opacity="0.9"/>
<path d="M348.2 403.7L348.4 401.9M343.2 396.9L343.6 394.2M358.5 419.0L358.6 417.4M354.9 406.2L355.1 404.4M343.3 419.9L343.4 417.1" fill="none" stroke="#465fa0" stroke-width="1.4" stroke-opacity="0.9"/>
<path d="M338.8 432.3L338.7 431.3" fill="none" stroke="#465fa0" stroke-width="1.0" stroke-opacity="0.9"/>
<path d="M363.7 404.5L364.0 402.0M369.4 422.6L369.6 419.8M342.7 428.8L342.7 427.4" fill="none" stroke="#5569a5" stroke-width="1.4" stroke-opacity="0.9"/>
<path d="M369.1 425.8L369.1 423.4M364.9 414.3L365.0 413.1M349.1 432.2L349.1 430.3M350.1 428.6L350.1 426.0M359.8 421.2L359.9 419.3" fill="none" stroke="#465fa0" stroke-width="0.8" stroke-opacity="0.9"/>
<path d="M339.8 426.5L339.8 424.1M340.8 400.8L341.1 398.3M336.3 430.3L336.3 427.8M340.4 422.4L340.4 420.9" fill="none" stroke="#5569a5" stroke-width="2.0" stroke-opacity="0.9"/>
<path d="M364.5 415.8L364.7 413.2M358.5 432.3L358.5 430.3M338.1 406.3L338.4 403.3M337.6 406.3L337.9 403.4M352.3 412.8L352.5 410.6" fill="none" stroke="#5569a5" stroke-width="1.0" stroke-opacity="0.9"/>
<path d="M359.6 434.1L359.6 432.7" fill="none" stroke="#4b7db4" stroke-width="1.4" stroke-opacity="0.9"/>
<path d="M363.9 425.4L363.9 424.1M363.4 419.6L363.5 417.2M336.9 430.3L336.9 427.7" fill="none" stroke="#465fa0" stroke-width="2.0" stroke-opacity="0.9"/>
<path d="M344.8 433.0L344.8 431.3M341.3 397.0L341.7 394.5M354.4 435.1L354.3 433.3M366.6 419.1L366.7 416.5M357.9 399.5L358.2 397.5M362.3 431.2L362.3 428.5M357.9 436.4L357.8 433.9" fill="none" stroke="#5569a5" stroke-width="0.8" stroke-opacity="0.9"/>
<path d="M357.2 400.9L357.4 399.5M360.9 415.0L361.0 413.7" fill="none" stroke="#4b7db4" stroke-width="2.0" stroke-opacity="0.9"/>
<path d="M350.4 423.8L350.4 421.4M349.1 408.7L349.4 406.2M338.5 400.8L338.9 398.5" fill="none" stroke="#4b7db4" stroke-width="1.0" stroke-opacity="0.9"/>
<path d="M339.4 436.3L339.3 433.7" fill="none" stroke="#4b7db4" stroke-width="0.8" stroke-opacity="0.9"/>
<path d="M626.9 470.9L625.7 472.6M611.6 464.1L610.1 465.9M611.0 473.1L610.1 474.0M628.0 464.7L626.8 466.7" fill="none" stroke="#465fa0" stroke-width="0.8" stroke-opacity="0.9"/>
<path d="M624.3 465.1L623.1 467.0M617.7 469.6L616.3 471.3M599.5 459.7L598.1 461.1" fill="none" stroke="#465fa0" stroke-width="1.0" stroke-opacity="0.9"/>
<path d="M607.1 469.4L606.1 470.4M620.8 470.7L619.2 472.7M622.2 459.4L621.3 461.0M623.8 460.5L623.2 461.5M601.3 462.9L599.6 464.6M611.2 461.9L610.3 463.1" fill="none" stroke="#465fa0" stroke-width="1.4" stroke-opacity="0.9"/>
<path d="M589.7 465.0L588.7 465.7M626.2 462.9L625.4 464.3" fill="none" stroke="#4b7db4" stroke-width="1.0" stroke-opacity="0.9"/>
<path d="M625.9 470.4L624.8 471.9M613.6 469.2L612.6 470.3M599.3 460.6L598.0 461.9" fill="none" stroke="#5569a5" stroke-width="0.8" stroke-opacity="0.9"/>
<path d="M623.2 463.6L622.1 465.2M624.5 470.4L623.3 472.0" fill="none" stroke="#5569a5" stroke-width="1.4" stroke-opacity="0.9"/>
<path d="M598.1 469.9L596.2 471.2" fill="none" stroke="#4b7db4" stroke-width="1.4" stroke-opacity="0.9"/>
<path d="M618.5 473.4L617.6 474.3M616.0 466.2L614.5 468.1M630.2 471.4L628.9 473.2" fill="none" stroke="#465fa0" stroke-width="2.0" stroke-opacity="0.9"/>
<path d="M614.7 468.4L613.3 470.0M602.1 462.3L601.0 463.4" fill="none" stroke="#5569a5" stroke-width="1.0" stroke-opacity="0.9"/>
<path d="M610.8 460.6L610.2 461.5M596.0 461.6L595.1 462.4" fill="none" stroke="#4b7db4" stroke-width="0.8" stroke-opacity="0.9"/>
<path d="M674.6 389.7L675.0 390.9M673.3 387.2L674.2 389.5M670.6 388.5L671.0 389.6M670.7 388.6L671.3 390.1M680.7 386.8L681.6 389.5M680.5 385.6L681.6 388.4" fill="none" stroke="#465fa0" stroke-width="1.0" stroke-opacity="0.9"/>
<path d="M681.1 392.4L681.9 395.0M682.0 390.2L682.4 391.3" fill="none" stroke="#4b7db4" stroke-width="1.0" stroke-opacity="0.9"/>
<path d="M673.2 382.6L673.7 383.7M671.2 383.2L671.9 384.7M672.5 383.5L673.1 384.9M678.5 382.4L679.4 384.5M669.8 388.3L670.6 390.6" fill="none" stroke="#465fa0" stroke-width="2.0" stroke-opacity="0.9"/>
<path d="M672.7 382.6L673.4 384.3" fill="none" stroke="#5569a5" stroke-width="0.8" stroke-opacity="0.9"/>
<path d="M675.8 392.4L676.2 393.5M673.0 389.1L673.7 391.2" fill="none" stroke="#4b7db4" stroke-width="0.8" stroke-opacity="0.9"/>
<path d="M676.0 384.8L676.5 386.1M679.2 389.6L680.1 392.2M679.3 389.8L680.2 392.5" fill="none" stroke="#5569a5" stroke-width="2.0" stroke-opacity="0.9"/>
<path d="M678.4 387.5L678.8 388.6" fill="none" stroke="#4b7db4" stroke-width="2.0" stroke-opacity="0.9"/>
<path d="M678.0 383.8L678.9 386.2" fill="none" stroke="#5569a5" stroke-width="1.4" stroke-opacity="0.9"/>
<path d="M678.3 381.8L679.4 384.5" fill="none" stroke="#5569a5" stroke-width="1.0" stroke-opacity="0.9"/>
<path d="M721.8 364.3L723.1 367.4M731.5 343.8L732.9 346.5M741.7 345.3L743.0 348.1M706.9 369.2L707.5 370.6M751.0 396.6L751.2 398.1M728.1 341.5L729.4 343.9M754.7 343.6L755.6 345.4M735.7 383.7L736.3 385.6M736.9 329.6L737.7 331.0" fill="none" stroke="#4b7db4" stroke-width="0.8" stroke-opacity="0.9"/>
<path d="M757.7 361.2L758.2 362.7M751.8 399.2L752.0 400.6M717.8 396.1L718.2 397.7M713.2 382.2L713.7 383.9" fill="none" stroke="#5569a5" stroke-width="0.8" stroke-opacity="0.9"/>
<path d="M717.1 352.8L718.3 355.2M714.9 378.7L715.5 380.5" fill="none" stroke="#5a9bc8" stroke-width="0.8" stroke-opacity="0.9"/>
<path d="M730.8 362.2L731.7 364.4M707.4 368.6L708.1 370.1M755.6 379.2L756.0 380.4M755.7 392.7L755.9 393.9M720.9 351.2L722.4 354.2M698.3 344.9L699.1 346.2M691.8 338.7L693.0 340.3M714.8 388.3L715.4 390.8M708.2 334.5L708.8 335.3M690.3 336.7L692.3 339.3" fill="none" stroke="#465fa0" stroke-width="0.8" stroke-opacity="0.9"/>
<path d="M701.1 359.1L701.7 360.1M721.5 334.3L722.4 335.9" fill="none" stroke="#64c3dc" stroke-width="0.8" stroke-opacity="0.9"/>
<path d="M718.0 365.6L719.2 368.5M702.8 330.1L704.2 332.0" fill="none" stroke="#ffdc0a" stroke-width="1.0" stroke-opacity="0.9"/>
<path d="M729.2 360.2L730.1 362.3M721.6 361.0L722.3 362.6" fill="none" stroke="#5a9bc8" stroke-width="1.0" stroke-opacity="0.9"/>
<path d="M731.9 361.8L733.0 364.3" fill="none" stroke="#41d76e" stroke-width="0.8" stroke-opacity="0.9"/>
<path d="M721.9 376.1L722.8 378.8" fill="none" stroke="#465fa0" stroke-width="1.0" stroke-opacity="0.9"/>
<path d="M746.4 373.7L747.2 376.2" fill="none" stroke="#4b7db4" stroke-width="1.0" stroke-opacity="0.9"/>
<path d="M730.5 387.9L731.3 391.0" fill="none" stroke="#5569a5" stroke-width="1.0" stroke-opacity="0.9"/>
<path d="M742.5 463.3L742.1 465.1M748.8 435.3L748.7 437.1M747.8 438.2L747.7 440.3M735.0 451.6L734.6 454.1M710.5 429.4L710.5 430.9M716.2 430.9L716.2 432.9" fill="none" stroke="#4b7db4" stroke-width="0.8" stroke-opacity="0.9"/>
<path d="M701.2 414.4L701.5 416.9M712.2 454.2L712.0 455.3M725.3 429.2L725.3 431.3" fill="none" stroke="#465fa0" stroke-width="1.0" stroke-opacity="0.9"/>
<path d="M745.6 454.3L745.3 456.1M712.4 459.5L711.9 462.0" fill="none" stroke="#465fa0" stroke-width="1.4" stroke-opacity="0.9"/>
<path d="M703.5 466.4L702.9 468.8M711.7 413.4L711.9 415.6M703.7 452.4L703.1 455.4M759.4 470.1L758.7 473.3M744.7 454.0L744.5 455.8M710.3 457.0L710.0 458.3M698.6 423.3L698.7 426.8" fill="none" stroke="#465fa0" stroke-width="0.8" stroke-opacity="0.9"/>
<path d="M755.3 421.8L755.4 424.9" fill="none" stroke="#4b7db4" stroke-width="1.4" stroke-opacity="0.9"/>
<path d="M742.6 439.9L742.5 442.2M693.8 409.2L694.1 410.8" fill="none" stroke="#5569a5" stroke-width="1.0" stroke-opacity="0.9"/>
<path d="M692.3 454.1L692.0 455.7M706.0 428.1L706.0 431.3M759.5 453.7L759.2 456.6" fill="none" stroke="#4b7db4" stroke-width="1.0" stroke-opacity="0.9"/>
<path d="M694.4 437.8L694.3 439.6M737.8 410.9L738.0 413.5" fill="none" stroke="#64c3dc" stroke-width="1.0" stroke-opacity="0.9"/>
<path d="M722.3 421.6L722.4 422.9M712.4 438.2L712.2 441.0M745.9 460.5L745.2 463.9" fill="none" stroke="#41d76e" stroke-width="1.0" stroke-opacity="0.9"/>
<path d="M727.2 457.5L726.9 458.7M712.2 453.7L711.7 456.8" fill="none" stroke="#64c3dc" stroke-width="0.8" stroke-opacity="0.9"/>
<path d="M720.5 412.6L720.8 415.6M750.3 467.3L749.8 469.7M740.2 454.9L740.0 456.2" fill="none" stroke="#41d76e" stroke-width="0.8" stroke-opacity="0.9"/>
<path d="M743.7 413.8L744.0 417.1M726.3 417.6L726.5 420.3M697.7 459.5L697.3 461.3M691.1 450.5L690.6 453.3M752.7 419.8L752.8 421.6" fill="none" stroke="#5569a5" stroke-width="0.8" stroke-opacity="0.9"/>
<path d="M706.8 432.5L706.7 435.5" fill="none" stroke="#5a9bc8" stroke-width="1.0" stroke-opacity="0.9"/>
<path d="M708.5 454.3L707.9 457.5" fill="none" stroke="#41d76e" stroke-width="1.4" stroke-opacity="0.9"/>
<path d="M705.8 420.0L705.9 423.0" fill="none" stroke="#64c3dc" stroke-width="1.4" stroke-opacity="0.9"/>
<path d="M708.0 437.4L707.7 440.8M745.1 425.2L745.1 426.3M707.0 452.9L706.6 455.5" fill="none" stroke="#5a9bc8" stroke-width="0.8" stroke-opacity="0.9"/>
<path d="M818.9 392.3L819.4 395.4M795.1 374.3L795.9 377.5M798.7 383.5L799.3 386.8" fill="none" stroke="#5a9bc8" stroke-width="0.8" stroke-opacity="0.9"/>
<path d="M797.7 307.1L798.3 308.3M820.9 393.7L821.1 395.6M829.7 365.9L830.3 368.8" fill="none" stroke="#5569a5" stroke-width="0.8" stroke-opacity="0.9"/>
<path d="M791.1 308.0L791.6 309.0" fill="none" stroke="#5569a5" stroke-width="1.0" stroke-opacity="0.9"/>
<path d="M789.6 354.5L790.2 356.4M807.0 358.8L807.7 361.3" fill="none" stroke="#64c3dc" stroke-width="0.8" stroke-opacity="0.9"/>
<path d="M824.8 387.2L825.1 388.9M790.8 404.2L791.1 407.7M805.5 410.7L805.6 413.1" fill="none" stroke="#465fa0" stroke-width="0.8" stroke-opacity="0.9"/>
<path d="M809.9 418.1L810.1 421.4M794.6 338.2L795.6 340.8" fill="none" stroke="#41d76e" stroke-width="0.8" stroke-opacity="0.9"/>
<path d="M801.5 299.9L803.1 302.9M780.4 314.2L782.0 317.3" fill="none" stroke="#4b7db4" stroke-width="0.8" stroke-opacity="0.9"/>
<path d="M790.0 363.5L790.9 366.7M782.5 391.4L783.0 394.3M817.1 327.7L817.7 329.2M790.9 319.6L792.3 322.4" fill="none" stroke="#465fa0" stroke-width="1.0" stroke-opacity="0.9"/>
<path d="M812.5 367.2L813.0 369.2" fill="none" stroke="#64c3dc" stroke-width="1.0" stroke-opacity="0.9"/>
<path d="M825.2 364.8L825.9 367.6" fill="none" stroke="#5a9bc8" stroke-width="1.0" stroke-opacity="0.9"/>
<path d="M782.1 305.7L783.2 307.6M811.4 395.4L811.7 397.4" fill="none" stroke="#4b7db4" stroke-width="1.0" stroke-opacity="0.9"/>
<path d="M809.9 327.3L810.5 328.8" fill="none" stroke="#41d76e" stroke-width="1.0" stroke-opacity="0.9"/>
<path d="M916.4 844.8L909.0 850.8M961.1 809.2L954.4 816.0M967.1 828.7L960.1 835.6M957.1 846.8L942.2 860.2" fill="none" stroke="#5569a5" stroke-width="1.85"/>
<path d="M766.7 788.2L760.4 791.6M792.1 774.7L786.0 778.6M767.4 789.5L761.1 793.0M792.9 776.0L786.8 779.9M768.1 790.8L755.4 797.6M800.6 774.5L788.4 782.4M769.6 793.5A416.2 416.2 0 0 1 743.7 806.7M825.0 758.6L819.2 763.0M801.4 775.7L789.2 783.7M770.3 794.8A417.8 417.8 0 0 1 744.3 808.0M825.9 759.8L814.2 768.6M796.1 781.0L783.7 788.8M771.1 796.1A419.2 419.2 0 0 1 738.3 812.4M826.8 761.0L821.0 765.4M797.0 782.3L784.5 790.1M765.3 800.9L758.8 804.3M752.2 807.6L738.9 813.8M766.0 802.2L759.5 805.6M746.3 812.1L739.5 815.1M828.7 763.3A423.8 423.8 0 0 1 804.8 780.7M798.6 784.8L786.0 792.6M766.7 803.5A423.8 423.8 0 0 1 733.4 819.5M823.7 769.0L817.8 773.4M837.3 762.2A428.2 428.2 0 0 1 781.9 800.3M775.4 804.0L768.9 807.5M762.2 811.0L742.0 820.6M838.3 763.4L832.4 768.0M826.4 772.6L808.1 785.7M801.9 789.8L795.5 793.8M782.7 801.6A429.8 429.8 0 0 1 742.6 822.0M846.0 760.9A432.8 432.8 0 0 1 822.2 779.5M816.0 783.9L809.8 788.2M797.1 796.4L784.2 804.2M777.6 807.9L771.0 811.5M757.5 818.4L750.7 821.6M846.9 762.1L835.2 771.6M816.9 785.1L810.6 789.4M797.9 797.7A434.2 434.2 0 0 1 771.7 812.8M758.2 819.7L751.3 823.0M842.0 768.0L830.0 777.4M798.7 798.9A435.8 435.8 0 0 1 772.4 814.1M837.9 775.1L831.8 779.8M800.3 801.5L780.5 813.1M850.8 766.7L832.7 781.0M801.1 802.8A440.2 440.2 0 0 1 774.5 818.1M760.8 825.1L753.9 828.4M845.8 772.7A441.8 441.8 0 0 1 808.4 799.9M795.3 808.1A441.8 441.8 0 0 1 747.5 833.0M847.7 775.0A444.8 444.8 0 0 1 803.5 806.6M796.9 810.6A444.8 444.8 0 0 1 748.7 835.7M848.6 776.2A446.2 446.2 0 0 1 756.4 833.8M849.6 777.4A447.8 447.8 0 0 1 757.0 835.2M845.3 784.6A450.8 450.8 0 0 1 765.4 834.5M852.4 780.9A452.2 452.2 0 0 1 773.1 832.4M853.4 782.0L834.5 796.5M821.5 805.6A453.8 453.8 0 0 1 773.8 833.7M854.3 783.2L848.1 788.1M815.7 811.2A455.2 455.2 0 0 1 781.5 831.4M816.6 812.5A456.8 456.8 0 0 1 782.2 832.7M818.2 815.0L797.7 827.6M790.7 831.5L776.5 839.0M858.1 787.9L851.8 792.9M812.2 820.6A461.2 461.2 0 0 1 777.2 840.4M866.2 785.0L853.6 795.2M827.4 814.3L813.8 823.1M806.9 827.3A464.2 464.2 0 0 1 778.6 843.0M867.2 786.2L860.9 791.4M821.5 820.0L807.7 828.6M800.7 832.8L779.2 844.4M874.3 782.0L861.8 792.5M808.5 829.9L787.2 842.0M875.3 783.2A468.8 468.8 0 0 1 849.9 803.8M809.2 831.2L787.9 843.3M870.1 789.6L857.3 800.0M802.9 836.6L781.3 848.4M766.5 855.6L744.0 865.4M803.7 837.9A471.8 471.8 0 0 1 752.1 863.6M865.6 797.2L859.2 802.3M804.4 839.2A473.2 473.2 0 0 1 775.3 854.8M760.3 861.7L752.7 865.0M784.7 855.1L777.2 858.8M785.4 856.4L777.9 860.1M884.2 793.4L871.3 804.2M864.7 809.4L851.3 819.5M885.2 794.5L878.7 800.0M865.6 810.6L852.1 820.8M824.1 839.6L816.9 844.1M892.5 790.0L886.2 795.6M866.5 811.8L853.0 822.0M846.1 826.9L839.1 831.7M832.1 836.4L824.9 840.9M817.7 845.3L803.1 853.8M900.8 786.5A488.2 488.2 0 0 1 819.3 847.9M901.8 787.6L889.1 799.0M869.3 815.3A489.8 489.8 0 0 1 827.3 844.7M896.5 794.5L877.0 811.2M863.4 821.7A491.2 491.2 0 0 1 835.4 841.4M892.1 802.4A494.2 494.2 0 0 1 829.7 848.5M893.0 803.5A495.8 495.8 0 0 1 866.1 825.3M859.2 830.5L845.0 840.4M880.7 815.8L860.1 831.7M888.4 811.5A498.8 498.8 0 0 1 861.0 832.9M883.6 819.3L869.8 830.1M884.5 820.5L870.7 831.3M885.4 821.7L871.6 832.5M880.4 829.5L873.4 834.9M911.1 784.9L904.9 790.9M913.2 787.1L900.5 798.9M914.3 788.2L907.9 794.2M915.3 789.2L902.5 801.2M924.7 786.3L912.0 798.6M927.9 789.5L915.1 801.8M929.0 790.6L916.1 802.9M909.6 809.0L896.1 820.7M930.0 791.6L917.2 804.0M910.6 810.1L890.2 827.5M937.4 786.3A513.8 513.8 0 0 1 891.1 828.7M944.6 780.8A515.2 515.2 0 0 1 899.0 824.1M945.7 781.8A516.8 516.8 0 0 1 900.0 825.3M940.6 789.4A518.2 518.2 0 0 1 893.9 832.2M936.4 798.0L923.3 810.6M909.8 822.8L895.8 834.5M937.4 799.0L930.9 805.4M910.8 823.9L903.8 829.8M904.8 831.0L890.6 842.5M905.7 832.1L891.5 843.7M908.6 835.6L901.5 841.5M903.4 843.8L896.1 849.6M911.5 839.0L904.3 845.0M909.0 850.8L901.6 856.7M917.3 845.9L910.0 852.0M918.3 847.1L903.5 859.1M912.8 855.5L905.3 861.4M942.7 804.3L936.1 810.8M943.8 805.4L937.2 811.9M965.5 800.2L958.9 807.1M989.7 809.3L983.0 816.6M990.8 810.3L984.1 817.6M1023.4 811.7L1016.7 819.6M1024.6 812.7L1017.8 820.6M1025.7 813.6L1018.9 821.6M976.2 823.8L962.2 837.8M970.3 831.9A569.2 569.2 0 0 1 941.3 859.0M971.4 833.0L957.1 846.8M965.3 841.0L950.7 854.7M973.5 835.1L966.4 842.1M959.1 849.0L944.2 862.4M960.1 850.1L945.2 863.5M953.7 858.0L946.2 864.7M715.2 684.7L710.7 687.2M706.2 689.6L701.6 692.0M711.4 688.5L706.9 691.0M725.6 681.9A297.8 297.8 0 0 1 703.0 694.7M726.4 683.2A299.2 299.2 0 0 1 703.7 696.0M718.2 689.9A300.8 300.8 0 0 1 699.6 699.7M733.2 684.1L728.8 687.0M715.1 695.1L710.4 697.6M705.7 700.0L701.0 702.4M742.9 679.4L729.6 688.3M706.4 701.4L701.6 703.8M743.7 680.7A306.8 306.8 0 0 1 725.8 692.3M716.5 697.7A306.8 306.8 0 0 1 697.4 707.4M744.6 681.9A308.2 308.2 0 0 1 698.1 708.8M745.5 683.1A309.8 309.8 0 0 1 727.3 694.9M713.2 702.9L703.6 707.8M746.3 684.4A311.2 311.2 0 0 1 704.2 709.1M733.5 694.6A312.8 312.8 0 0 1 709.8 708.1M743.5 689.9A314.2 314.2 0 0 1 715.3 706.9M735.1 697.2L730.4 700.1M720.9 705.6L716.0 708.2M731.2 701.3L721.6 706.9M722.3 708.2L717.4 710.8M727.9 706.7L718.1 712.2M530.8 730.9L520.3 729.4M520.0 730.9L514.8 730.0M535.7 734.5A306.8 306.8 0 0 1 509.3 730.5M535.6 736.0A308.2 308.2 0 0 1 509.0 732.0M530.1 736.8A309.8 309.8 0 0 1 503.4 732.4M529.9 738.3A311.2 311.2 0 0 1 503.1 733.8M518.9 738.3A312.8 312.8 0 0 1 497.4 734.1M535.0 741.9A314.2 314.2 0 0 1 507.8 737.9M540.3 743.9L534.8 743.4M513.0 740.4L507.6 739.3M562.3 746.6L556.7 746.5M534.6 744.9L529.1 744.3M512.7 741.8L496.4 738.5M556.7 748.0L551.1 747.7M534.5 746.4L529.0 745.8M512.4 743.3L496.1 740.0M567.8 749.6L562.2 749.6M556.6 749.5L551.0 749.2M506.7 743.8L501.2 742.7M567.8 751.1A321.8 321.8 0 0 1 539.8 749.9M567.8 752.6A323.2 323.2 0 0 1 534.0 750.9M556.5 754.0A324.8 324.8 0 0 1 533.9 752.4M511.4 749.2L500.3 747.1M562.1 755.6L556.4 755.5M556.4 757.0L544.9 756.4M505.3 751.1L494.1 748.7M556.3 758.4L539.1 757.4M505.0 752.6L499.3 751.5M556.3 759.9L539.0 758.9M510.4 755.1L499.0 752.9M556.2 761.4L550.4 761.2M544.4 763.8L538.6 763.4M515.4 760.5A335.2 335.2 0 0 1 492.4 756.1M544.3 765.3L526.8 763.6M520.9 762.9A336.8 336.8 0 0 1 497.8 758.8M544.2 766.8L538.3 766.4M532.4 765.8L526.6 765.1M514.9 763.5L497.5 760.3M538.1 769.4L532.1 768.8M514.4 766.4L496.9 763.2M508.3 766.9L502.4 765.9M537.8 772.3L525.8 771.1M519.9 770.3L508.0 768.4M537.7 773.8L531.7 773.3M513.7 770.9L501.8 768.8" fill="none" stroke="#465fa0" stroke-width="1.85"/>
<path d="M765.2 785.6L759.0 789.0M759.7 790.3L753.4 793.6M799.7 773.2L787.6 781.1M768.9 792.1L762.5 795.6M821.0 765.4L815.1 769.8M803.1 778.2L797.0 782.3M771.8 797.4L765.3 800.9M758.8 804.3L752.2 807.6M827.8 762.1L816.0 771.0M797.8 783.5L785.3 791.3M772.5 798.7L766.0 802.2M759.5 805.6L746.3 812.1M835.4 759.9L823.7 769.0M817.8 773.4A425.2 425.2 0 0 1 786.8 793.9M774.0 801.3A425.2 425.2 0 0 1 740.8 817.9M830.5 765.7A426.8 426.8 0 0 1 781.2 799.0M768.1 806.2A426.8 426.8 0 0 1 741.4 819.3M768.9 807.5L762.2 811.0M832.4 768.0L826.4 772.6M821.3 778.3L809.0 786.9M796.3 795.1A431.2 431.2 0 0 1 743.2 823.4M822.2 779.5L816.0 783.9M784.2 804.2L777.6 807.9M771.0 811.5L757.5 818.4M823.0 780.7L816.9 785.1M771.7 812.8L758.2 819.7M830.0 777.4L817.7 786.3M765.6 817.7L758.8 821.0M848.9 764.4L830.9 778.6M824.8 783.1L818.6 787.6M799.5 800.2A437.2 437.2 0 0 1 773.1 815.5M849.8 765.5L837.9 775.1M831.8 779.8L819.5 788.8M780.5 813.1L773.8 816.8M767.0 820.3L760.1 823.7M832.7 781.0L820.3 790.0M774.5 818.1L760.8 825.1M852.7 768.9A443.2 443.2 0 0 1 815.7 796.9M802.7 805.3A443.2 443.2 0 0 1 748.1 834.3M844.4 783.4A449.2 449.2 0 0 1 757.7 836.6M834.5 796.5L821.5 805.6M848.1 788.1A455.2 455.2 0 0 1 815.7 811.2M849.0 789.3A456.8 456.8 0 0 1 816.6 812.5M856.2 785.5L843.6 795.4M830.6 804.8A458.2 458.2 0 0 1 782.9 834.0M850.9 791.7L844.5 796.6M824.9 810.6L818.2 815.0M797.7 827.6L790.7 831.5M851.8 792.9L845.4 797.8M825.7 811.8L812.2 820.6M826.6 813.0L813.0 821.8M806.1 826.1A462.8 462.8 0 0 1 777.9 841.7M853.6 795.2A464.2 464.2 0 0 1 827.4 814.3M860.9 791.4L841.6 806.2M828.2 815.5L821.5 820.0M861.8 792.5L842.4 807.4M829.1 816.8L815.4 825.7M849.9 803.8L843.3 808.6M829.9 818.0L816.2 826.9M857.3 800.0L844.2 809.8M817.0 828.2L802.9 836.6M864.7 796.0L845.1 811.1M810.8 833.8L803.7 837.9M859.2 802.3L846.0 812.3M811.5 835.1L804.4 839.2M873.0 793.1L853.5 808.6M798.0 844.6L783.3 852.4M873.9 794.2L854.4 809.8M791.4 849.9L784.0 853.7M874.9 795.4L855.3 810.9M792.1 851.2L784.7 855.1M875.9 796.5A479.2 479.2 0 0 1 849.5 817.1M876.8 797.7A480.8 480.8 0 0 1 850.4 818.3M871.3 804.2L864.7 809.4M851.3 819.5A482.2 482.2 0 0 1 801.6 851.2M794.2 855.2L786.7 859.1M878.7 800.0L865.6 810.6M852.1 820.8A483.8 483.8 0 0 1 824.1 839.6M816.9 844.1L794.9 856.5M886.2 795.6L866.5 811.8M853.0 822.0L846.1 826.9M839.1 831.7L832.1 836.4M824.9 840.9L817.7 845.3M899.8 785.4A486.8 486.8 0 0 1 811.2 850.9M877.0 811.2L863.4 821.7M835.4 841.4L828.1 846.0M891.1 801.3A492.8 492.8 0 0 1 828.9 847.3M887.4 810.3L880.7 815.8M889.4 812.6L868.9 828.9M879.5 828.3L872.5 833.7M912.2 786.0L905.9 792.0M907.9 794.2L901.5 800.0M911.0 797.5L904.5 803.4M912.0 798.6L905.5 804.5M920.5 794.6L900.9 812.6M915.1 801.8L908.6 807.8M916.1 802.9L909.6 809.0M917.2 804.0L910.6 810.1M941.7 790.4A519.8 519.8 0 0 1 894.9 833.3M903.8 829.8L896.8 835.7M906.7 833.3L899.6 839.2M909.6 836.7L902.4 842.6M911.9 854.3L904.4 860.2M964.4 799.2L951.2 812.8M958.9 807.1L952.3 813.9M966.6 801.3L953.3 814.9M972.4 834.0L965.3 841.0M710.7 687.2L706.2 689.6M715.9 686.0L711.4 688.5M706.9 691.0L702.3 693.4M728.0 685.7A302.2 302.2 0 0 1 695.5 703.3M737.7 681.2L733.2 684.1M728.8 687.0L715.1 695.1M710.4 697.6L705.7 700.0M701.0 702.4L696.2 704.7M729.6 688.3L720.4 693.8M725.8 692.3L716.5 697.7M727.3 694.9L713.2 702.9M730.4 700.1L720.9 705.6M727.2 705.4L722.3 708.2M535.1 740.4L518.9 738.3M534.8 743.4A315.8 315.8 0 0 1 513.0 740.4M529.1 744.3L512.7 741.8M529.0 745.8L523.4 745.0M517.9 744.2L512.4 743.3M562.2 749.6L556.6 749.5M545.5 748.9L528.8 747.3M512.2 744.8L506.7 743.8M539.8 749.9L528.6 748.8M511.9 746.3L506.4 745.2M534.0 750.9L528.4 750.2M511.7 747.7L506.1 746.7M533.9 752.4L528.2 751.7M556.4 755.5A326.2 326.2 0 0 1 533.7 753.9M511.1 750.7L500.0 748.5M544.9 756.4L533.5 755.4M510.9 752.2L505.3 751.1M539.1 757.4L527.7 756.2M516.3 754.6L505.0 752.6M539.0 758.9A330.8 330.8 0 0 1 510.4 755.1M550.4 761.2L533.1 759.8M515.8 757.6L498.7 754.4M550.3 762.7L532.9 761.3M515.6 759.0L498.4 755.9M538.6 763.4A335.2 335.2 0 0 1 515.4 760.5M526.8 763.6L520.9 762.9M538.3 766.4L532.4 765.8M526.6 765.1L514.9 763.5M538.2 767.9A339.8 339.8 0 0 1 491.4 760.4M520.3 767.3L514.4 766.4M537.9 770.8L520.1 768.8M502.4 765.9L496.5 764.7M508.0 768.4L502.1 767.3" fill="none" stroke="#4b7db4" stroke-width="1.85"/>
<path d="M772.4 814.1L765.6 817.7M830.9 778.6L824.8 783.1M773.1 815.5L759.5 822.4M773.8 816.8L767.0 820.3M843.6 795.4L830.6 804.8M844.5 796.6L824.9 810.6M845.4 797.8L825.7 811.8M839.8 803.8L826.6 813.0M841.6 806.2L828.2 815.5M842.4 807.4L829.1 816.8M843.3 808.6L836.7 813.4M830.8 819.3L817.0 828.2M831.6 820.5L810.8 833.8M832.4 821.7L825.6 826.3M818.6 830.7L811.5 835.1M853.5 808.6L846.9 813.5M812.3 836.3L798.0 844.6M813.1 837.6L791.4 849.9M855.3 810.9L841.8 820.7M835.0 825.5L828.0 830.1M799.4 847.2L792.1 851.2M849.5 817.1L828.8 831.3M821.8 835.8L814.6 840.2M792.8 852.6L785.4 856.4M850.4 818.3A480.8 480.8 0 0 1 808.2 845.7M793.5 853.9L786.1 857.8M801.6 851.2L794.2 855.2M523.4 745.0L517.9 744.2M528.8 747.3L523.2 746.5M517.7 745.7L512.2 744.8M528.6 748.8L523.0 748.0M517.5 747.2L511.9 746.3M528.4 750.2L522.8 749.5M517.2 748.7L511.7 747.7M528.2 751.7L522.6 751.0M517.0 750.2L511.4 749.2M533.7 753.9L528.0 753.2M533.5 755.4L522.2 754.0M516.5 753.1L510.9 752.2M527.7 756.2L516.3 754.6M533.1 759.8L515.8 757.6M532.9 761.3L515.6 759.0" fill="none" stroke="#5a9bc8" stroke-width="1.85"/>
<path d="M836.7 813.4L829.9 818.0M844.2 809.8L830.8 819.3M845.1 811.1L831.6 820.5M846.0 812.3L832.4 821.7M825.6 826.3L818.6 830.7M846.9 813.5L826.4 827.6M819.4 832.0L812.3 836.3M841.0 819.5L827.2 828.8M820.2 833.3L813.1 837.6M841.8 820.7L835.0 825.5M828.0 830.1A477.8 477.8 0 0 1 799.4 847.2M828.8 831.3L821.8 835.8M814.6 840.2L792.8 852.6M808.2 845.7L793.5 853.9M523.2 746.5L517.7 745.7M523.0 748.0L517.5 747.2M522.8 749.5L517.2 748.7M522.6 751.0L517.0 750.2M528.0 753.2L522.4 752.5M516.8 751.6L511.1 750.7" fill="none" stroke="#64c3dc" stroke-width="1.85"/>
<path d="M826.4 827.6L819.4 832.0M827.2 828.8L820.2 833.3M522.2 754.0L516.5 753.1" fill="none" stroke="#64d7c3" stroke-width="1.85"/>
<path d="M522.4 752.5L516.8 751.6" fill="none" stroke="#41d76e" stroke-width="1.85"/>
<path d="M184.2 124.2L185.8 122.2M548.0 163.3L550.1 163.5M1012.7 601.7L1013.4 599.2M969.8 767.1L971.6 765.0" fill="none" stroke="#64c3dc" stroke-width="1.0"/>
<path d="M185.2 122.1L186.8 120.1M188.5 119.0L190.1 117.1M189.5 116.9L191.1 115.0M577.0 221.7L579.5 221.8M872.1 252.3L874.3 253.7M805.0 380.0L805.6 382.7M727.2 442.0L727.7 444.7M727.3 444.5L727.9 447.2M1017.0 298.1L1017.8 300.3M863.9 602.2L865.2 600.0M629.2 567.8L630.6 569.6M188.0 630.0L189.1 632.3M337.7 597.7L339.5 599.8" fill="none" stroke="#5a9bc8" stroke-width="1.4"/>
<path d="M187.0 120.7L188.6 118.8M192.3 113.5L193.9 111.5M824.8 301.1L826.0 303.2M816.6 417.2L816.8 419.8M798.0 458.0L798.4 460.1M103.5 716.0L105.0 718.4M105.8 720.5L107.2 722.9M108.2 724.8L109.7 727.3M1000.9 596.0L1002.0 593.7" fill="none" stroke="#5a9bc8" stroke-width="0.8"/>
<path d="M191.4 115.6L193.0 113.7M1016.6 296.0L1017.4 298.1M1003.8 293.7L1004.6 296.4M335.6 596.1L337.4 598.2M104.5 718.3L106.0 720.8M107.3 722.5L108.8 724.9" fill="none" stroke="#5a9bc8" stroke-width="1.2"/>
<path d="M192.9 119.8L195.0 118.4M194.7 118.2L196.8 116.8M260.7 244.2L262.4 242.0M504.0 153.8L506.2 153.6M506.0 153.3L508.1 153.1M541.0 110.4L543.6 110.4M747.8 202.6L749.9 204.0M848.2 212.3L850.1 214.4M750.2 203.4L752.4 205.0M806.6 387.3L807.2 389.9M815.4 347.8L816.4 350.0M742.2 415.6L743.2 417.9M405.1 584.3L406.8 586.4M430.0 667.1L432.1 667.5M433.9 668.0L436.1 668.3M314.2 750.4L316.3 751.8M257.2 825.4L259.4 826.7M432.2 668.6L434.3 669.7M537.5 696.9L540.1 696.9M521.0 709.5L523.1 709.9M489.9 736.1L492.3 736.9M661.0 816.8L663.4 816.5M676.4 817.1L679.0 816.7M680.8 815.6L683.4 815.1M685.5 815.1L688.1 814.6M480.0 783.1L482.6 783.1M484.6 783.0L487.2 783.0M491.4 782.7L494.0 782.7M502.4 775.6L505.0 775.6M504.8 775.9L507.4 775.9M530.0 784.9L532.7 784.9M546.0 769.7L548.6 769.5M548.3 769.5L550.9 769.3M553.0 769.7L555.6 769.5M555.3 769.3L557.9 769.1M548.0 763.7L550.6 763.4M499.8 767.1L502.4 767.1M486.0 760.4L488.6 760.2M561.6 783.4L564.7 783.2M510.5 778.9L513.2 778.9M490.7 772.7L493.3 772.8M499.7 773.1L502.3 773.3M550.3 745.5L552.9 745.1M555.0 744.8L557.6 744.4M557.4 744.9L560.0 744.6M559.7 744.5L562.3 744.2M979.6 839.6L981.5 837.9M925.6 827.2L927.8 825.7M974.4 818.0L976.1 815.8M716.9 715.8L718.6 714.4M720.3 713.3L722.1 711.9M745.1 858.3L747.6 857.3M749.1 855.9L751.6 855.0M800.8 858.5L803.5 857.6M823.9 853.7L826.6 852.6M826.4 852.8L829.1 851.8M831.5 851.1L834.2 850.0M859.9 779.7L862.1 778.6M866.2 777.4L868.4 776.2M867.8 775.7L870.1 774.5M869.8 774.7L872.1 773.5" fill="none" stroke="#465fa0" stroke-width="1.6"/>
<path d="M197.1 117.5L199.2 116.1M306.9 103.8L309.6 102.7M349.9 107.7L352.5 106.6M389.1 152.7L391.3 152.0M447.0 165.0L450.1 163.5M682.5 315.5L684.7 317.4M845.1 331.0L846.2 333.7M738.2 601.4L740.5 599.7M408.7 587.8L410.4 590.0M441.8 671.7L443.9 673.3M523.0 710.0L525.1 710.3M670.8 899.7L673.2 899.7M673.9 816.7L676.5 816.2M687.6 813.8L690.2 813.4M506.7 771.0L509.5 771.0M509.3 771.3L512.2 771.3M486.2 766.5L488.9 766.5M495.2 766.6L497.9 766.6M490.7 759.5L493.3 759.4M497.7 759.5L500.3 759.3M578.4 782.3L581.5 782.2M585.6 782.1L588.7 781.9M508.0 779.5L510.7 779.5M495.2 772.8L497.8 773.0M981.0 837.7L982.8 836.0M934.6 859.4L936.8 858.1M927.9 826.3L930.1 824.8M929.9 824.9L932.2 823.5M971.5 822.2L973.1 820.0M798.4 859.3L801.1 858.5M805.6 856.9L808.3 856.0M829.0 851.9L831.7 850.8" fill="none" stroke="#465fa0" stroke-width="2.0"/>
<path d="M302.2 106.5L304.9 105.4M140.4 752.7L142.3 754.8M143.4 757.1L145.3 759.2M447.8 672.2L449.8 674.3M634.7 816.5L637.5 816.5M932.1 585.0L933.2 587.7M484.0 766.6L486.6 766.6M490.8 766.9L493.4 766.9" fill="none" stroke="#465fa0" stroke-width="2.4"/>
<path d="M304.7 105.4L307.4 104.3M309.7 103.5L312.4 102.4M308.1 160.4L310.3 158.6M256.1 250.1L257.7 247.9M387.0 153.0L389.1 152.3M749.8 203.8L752.0 205.1M752.1 204.5L754.3 205.9M810.0 189.2L812.0 191.0M845.1 207.9L847.0 210.0M686.2 318.8L688.5 320.7M406.9 586.1L408.5 588.2M451.9 629.3L454.0 630.3M142.1 754.7L143.9 756.9M485.3 735.0L487.7 735.9M664.0 899.9L666.4 899.9M668.5 899.3L670.9 899.3M665.5 816.4L667.9 816.1M500.0 776.0L502.6 776.0M554.8 763.3L557.4 763.0M552.0 784.2L555.1 784.0M554.4 784.2L557.5 784.0M568.8 783.0L571.9 782.8M576.0 782.7L579.1 782.6M496.0 790.9L498.1 791.2M513.0 778.9L515.7 778.9M493.0 772.3L495.6 772.5M548.0 746.1L550.6 745.8M972.1 810.1L974.2 809.0M977.8 806.6L980.0 805.5M747.8 681.7L750.0 680.6M718.5 714.4L720.2 713.0" fill="none" stroke="#465fa0" stroke-width="1.8"/>
<path d="M292.1 156.1L294.7 154.6" fill="none" stroke="#41d76e" stroke-width="1.0"/>
<path d="M294.4 154.4L297.0 152.8M349.1 127.1L351.2 126.1" fill="none" stroke="#41d76e" stroke-width="0.8"/>
<path d="M306.1 162.1L308.3 160.3M361.6 102.8L364.2 101.6M452.4 146.3L455.1 145.5M540.5 141.3L543.2 141.0M585.5 182.5L588.1 182.3M579.3 221.5L581.8 221.6M808.8 187.0L810.8 188.8M789.8 231.6L791.9 233.4M737.7 254.3L739.3 256.4M857.7 68.8L859.9 70.7M848.8 266.2L850.4 267.9M685.8 289.3L688.0 290.9M707.1 340.1L708.5 342.4M714.8 351.9L716.3 354.3M729.2 362.4L730.7 364.8M732.1 366.7L733.6 369.1M817.2 351.9L818.3 354.1M793.2 308.1L794.7 310.5M695.1 419.9L696.5 422.3M698.2 424.0L699.6 426.3M767.0 417.6L767.4 420.2M768.2 422.2L768.6 424.8M790.8 597.2L792.7 595.7M706.3 632.4L708.5 630.6M861.1 605.9L862.4 603.7M862.5 604.0L863.8 601.8M687.4 475.6L689.0 478.2M719.2 467.4L720.3 470.0M672.1 635.2L674.2 636.7M378.9 529.6L380.5 531.5M464.0 593.0L466.1 592.1M468.1 591.7L470.2 590.9M432.4 604.8L435.0 605.3M512.3 594.1L514.8 594.7M394.4 487.8L395.8 490.3M374.0 678.0L376.1 679.6M729.3 841.4L731.8 840.4M663.3 817.2L665.7 816.9M970.2 578.1L971.6 576.4M970.9 576.0L972.3 574.2M928.6 863.0L930.8 861.7" fill="none" stroke="#4b7db4" stroke-width="1.8"/>
<path d="M310.1 158.7L312.3 156.9M779.1 249.5L780.1 251.0M845.8 246.2L847.5 248.3M849.1 250.2L850.9 252.3M748.2 202.1L750.4 203.6M821.5 295.5L822.7 297.5M310.4 448.0L310.4 451.1M488.2 324.2L489.8 322.6M489.3 322.3L490.9 320.8M690.2 321.8L692.4 323.8M696.2 326.4L698.4 328.3M805.9 382.3L806.5 385.0M679.6 424.8L681.7 425.4M682.7 436.8L683.4 439.2M684.1 441.1L684.8 443.4M951.3 284.3L952.4 285.9M871.0 624.6L872.7 622.3M676.2 557.5L678.7 558.9M442.6 571.0L444.4 572.8M470.2 591.2L472.3 590.4M468.0 606.0L470.6 606.0M454.9 619.2L457.5 620.2M431.9 667.7L434.1 668.1M310.2 747.7L312.3 749.1M251.0 822.0L253.1 823.4M253.1 823.2L255.2 824.5M254.7 824.9L256.9 826.3M263.1 834.8L265.6 836.2M433.8 670.4L435.9 671.5M496.8 677.2L498.7 678.6M535.0 697.4L537.6 697.4M545.0 698.0L547.6 698.0M483.2 733.9L485.6 734.7M487.5 735.6L490.0 736.4M481.4 856.4L483.9 857.1M483.6 857.5L486.1 858.2M210.9 915.1L213.1 916.7M820.2 686.4L822.1 684.7M625.0 807.1L628.1 807.1M642.0 810.5L644.1 810.1M997.2 604.1L998.3 601.8M482.3 782.6L484.9 782.6M486.9 783.1L489.5 783.1M486.0 787.3L488.6 787.3M490.7 787.1L493.3 787.1M497.7 786.7L500.3 786.7M535.0 785.0L537.7 785.0M552.5 763.8L555.1 763.5M561.5 762.7L564.1 762.4M493.0 759.6L495.6 759.4M556.8 783.6L559.9 783.4M564.0 782.9L567.1 782.7M566.4 783.3L569.5 783.1M583.2 782.4L586.3 782.2M562.5 780.2L565.4 780.1M515.5 779.3L518.2 779.3M486.2 772.3L488.8 772.5M497.5 773.1L500.1 773.3M937.6 853.2L939.7 851.3M916.6 841.7L918.5 840.3M917.1 862.9L919.3 861.5M924.0 861.0L925.8 859.6M875.1 853.8L877.8 852.8M962.9 783.3L964.9 781.8M968.0 804.0L970.5 802.6M886.6 835.3L889.1 834.2M886.3 844.8L888.9 843.5M888.6 843.7L891.2 842.4M890.9 842.7L893.5 841.4M699.3 684.8L701.7 683.4M733.9 675.8L736.6 674.7M739.9 692.4L742.0 691.7M763.5 864.1L766.1 862.9M765.7 862.8L768.3 861.6M764.1 871.8L766.3 870.4M766.0 870.4L768.2 869.1M803.3 857.8L805.9 856.9M859.6 769.1L862.3 768.1M884.1 782.2L886.3 780.9M885.8 780.5L888.0 779.2M889.9 778.3L892.1 776.9M892.0 777.1L894.2 775.8M742.4 806.8L745.1 805.7M745.0 806.0L747.7 804.9M747.4 804.9L750.1 803.8" fill="none" stroke="#465fa0" stroke-width="1.2"/>
<path d="M311.9 156.8L314.1 155.0M258.7 245.8L260.3 243.6M502.0 154.0L504.2 153.8M543.5 110.2L546.1 110.2M746.0 201.0L748.1 202.4M846.8 209.9L848.7 212.1M850.5 213.8L852.4 215.9M746.5 200.2L748.7 201.8M752.6 204.4L754.7 205.9M406.0 318.0L408.2 316.6M684.7 316.7L686.9 318.7M688.5 320.0L690.7 322.0M692.3 323.3L694.5 325.2M697.5 328.7L699.7 330.6M681.5 425.8L683.7 426.3M950.0 283.0L951.0 284.6M797.0 487.8L798.1 490.0M706.3 593.6L708.6 592.6M404.4 581.7L406.0 583.9M312.3 749.0L314.4 750.4M818.5 687.9L820.4 686.2M495.3 787.0L497.9 787.0M509.6 775.8L512.2 775.8M550.7 770.0L553.3 769.8M559.3 763.1L561.9 762.8M493.0 767.0L495.6 767.0M497.5 766.5L500.1 766.5M571.2 782.5L574.3 782.4M560.0 779.7L562.9 779.6M565.0 779.8L567.9 779.6M570.0 779.7L572.9 779.5M577.5 779.0L580.4 778.8M556.0 795.1L558.7 795.4M561.0 795.3L563.7 795.6M563.5 796.0L566.2 796.2M484.0 771.6L486.6 771.8M488.5 772.4L491.1 772.6M492.5 783.4L495.2 783.7M555.4 754.6L558.2 754.2M978.1 841.3L980.0 839.7M871.4 852.3L874.0 851.3M872.5 854.6L875.2 853.5M974.0 809.0L976.2 807.9M697.1 686.2L699.5 684.8M744.0 683.9L746.1 682.9M746.1 683.3L748.3 682.2M736.1 694.3L738.2 693.6M755.8 853.9L758.2 852.9M749.9 869.7L752.5 868.6M759.0 866.1L761.6 864.9M796.2 860.5L798.8 859.6M846.0 755.1L848.3 753.9M852.0 772.0L854.7 770.9M864.1 778.2L866.3 777.1M749.6 825.2L752.3 824.1M758.0 791.0L760.1 789.9" fill="none" stroke="#465fa0" stroke-width="1.4"/>
<path d="M314.1 155.3L316.3 153.5M584.0 230.0L587.1 231.0M662.8 238.2L664.6 240.0M664.8 239.5L666.6 241.3M963.5 148.5L964.9 150.3M847.9 232.1L849.7 234.2M847.7 248.0L849.5 250.1M441.0 280.0L444.1 279.0M775.0 261.0L776.6 263.1M776.4 263.0L778.0 265.1M683.4 439.0L684.1 441.3M794.6 483.7L795.8 486.0M795.8 485.8L797.0 488.0M826.2 649.2L828.0 647.8M873.9 620.1L875.6 617.8M674.9 558.2L676.9 557.4M677.0 557.9L678.9 557.0M438.0 566.0L439.8 567.7M441.0 569.4L442.8 571.2M470.5 606.3L473.1 606.3M457.5 620.0L460.1 621.0M383.9 473.0L383.9 476.1M265.4 836.2L267.9 837.6M521.0 678.0L524.1 678.0M547.5 698.0L550.1 698.0M454.9 723.2L457.5 724.3M545.5 729.7L548.1 729.7M212.8 916.7L215.0 918.3M812.0 694.0L813.9 692.3M813.7 692.6L815.6 690.9M816.8 689.3L818.7 687.6M628.0 807.2L631.1 807.2M640.0 810.9L642.1 810.5M671.3 821.5L673.8 821.3M936.7 588.0L938.1 585.9M493.7 782.7L496.3 782.7M488.3 786.8L490.9 786.8M532.5 785.3L535.2 785.3M537.5 785.3L540.2 785.3M564.8 756.8L567.5 756.6M575.0 779.3L577.9 779.2M558.5 795.2L561.2 795.5M490.0 783.0L492.7 783.2M495.0 783.5L497.7 783.7M497.5 783.7L500.2 784.0M536.0 732.1L538.7 731.8M538.5 731.5L541.2 731.2M542.0 739.6L544.1 739.1M552.6 745.2L555.3 744.8M552.6 754.4L555.5 754.0M976.7 833.9L978.8 832.1M935.3 854.8L937.4 852.8M914.9 843.3L916.8 841.8M919.0 861.3L921.1 859.9M925.7 859.7L927.5 858.3M876.2 850.5L878.7 849.5M878.5 849.5L881.1 848.6M877.5 852.6L880.2 851.5M887.9 856.4L889.8 854.8M930.4 776.4L932.5 774.2M915.1 786.9L916.8 785.1M916.5 785.0L918.3 783.2M959.2 786.1L961.2 784.7M969.9 794.2L971.3 792.2M953.7 802.6L955.9 801.0M970.2 802.5L972.7 801.1M1012.2 816.8L1014.0 815.1M882.0 836.7L884.5 835.6M890.8 833.0L893.2 831.8M884.0 846.0L886.6 844.7M895.4 840.3L898.0 839.0M958.1 790.1L960.3 788.2M701.4 683.3L703.8 681.9M703.9 682.6L706.4 681.2M736.5 675.0L739.2 673.9M738.0 693.4L740.1 692.7M747.2 857.2L749.6 856.3M751.5 855.5L753.9 854.6M753.5 854.3L755.9 853.4M757.8 852.8L760.3 851.8M756.8 867.2L759.4 866.0M761.4 865.3L764.0 864.1M836.0 760.0L838.2 758.9M837.9 758.7L840.1 757.6M843.9 755.9L846.2 754.7M856.9 769.8L859.6 768.7M747.1 826.3L749.8 825.2" fill="none" stroke="#465fa0" stroke-width="1.0"/>
<path d="M257.5 248.0L259.1 245.8M408.0 316.6L410.1 315.2M678.6 816.1L681.2 815.6" fill="none" stroke="#5569a5" stroke-width="1.6"/>
<path d="M280.3 258.2L281.9 256.0M284.1 251.9L285.6 249.7" fill="none" stroke="#12a01c" stroke-width="1.2"/>
<path d="M281.4 256.0L283.0 253.8M352.7 936.2L355.3 937.0" fill="none" stroke="#12a01c" stroke-width="1.4"/>
<path d="M282.5 253.8L284.0 251.6M344.0 932.9L346.6 933.7" fill="none" stroke="#12a01c" stroke-width="1.8"/>
<path d="M285.3 249.8L286.8 247.6" fill="none" stroke="#108c1a" stroke-width="1.2"/>
<path d="M352.3 106.9L354.9 105.8" fill="none" stroke="#5569a5" stroke-width="2.2"/>
<path d="M354.8 106.3L357.4 105.2M356.9 104.8L359.5 103.7M391.0 151.5L393.1 150.8M846.2 209.1L847.8 211.0M473.2 305.7L474.8 306.7M809.5 406.2L810.6 408.4M812.2 409.9L813.3 412.1M703.8 633.7L706.1 631.9M145.7 758.6L147.5 760.8M440.2 669.8L442.2 671.4M450.3 673.7L452.4 675.8M519.0 708.8L521.2 709.1M666.2 900.1L668.7 900.1M667.7 816.2L670.2 815.9M918.3 571.7L920.1 569.6M929.7 580.1L930.7 582.8M930.5 582.7L931.6 585.4M507.2 776.0L509.8 776.0M514.0 783.1L516.6 783.1M488.5 766.9L491.1 766.9M930.5 861.6L932.7 860.3M923.9 829.2L926.1 827.7M973.0 820.1L974.6 818.0" fill="none" stroke="#465fa0" stroke-width="2.2"/>
<path d="M359.2 103.6L361.8 102.5M550.2 763.5L552.8 763.2" fill="none" stroke="#5569a5" stroke-width="2.0"/>
<path d="M347.0 128.0L349.1 127.0M647.7 365.9L649.3 368.0M650.6 370.0L652.2 372.1" fill="none" stroke="#64d7c3" stroke-width="1.2"/>
<path d="M351.0 125.9L353.1 124.8M544.0 162.8L546.1 163.0M546.0 163.0L548.1 163.2" fill="none" stroke="#64d7c3" stroke-width="0.8"/>
<path d="M445.0 148.9L447.7 148.1M874.7 249.8L876.2 252.1M868.1 249.9L870.2 251.3M840.4 260.5L842.2 262.2M818.3 335.9L819.4 338.1M763.9 513.7L765.4 511.4M403.0 639.0L404.6 641.1M404.2 641.2L405.8 643.3" fill="none" stroke="#5a9bc8" stroke-width="2.2"/>
<path d="M447.6 148.5L450.3 147.7M734.7 250.2L736.3 252.4M856.1 66.6L858.3 68.5M858.7 234.3L860.3 236.5M865.1 241.9L866.8 244.2M868.4 239.7L869.9 242.0M709.6 344.1L711.0 346.4M791.0 303.8L792.5 306.2M721.6 424.1L722.1 427.2M726.4 452.9L727.0 456.0M753.9 554.9L755.6 552.8M755.2 552.6L756.9 550.5M699.9 596.4L702.3 595.4M789.2 598.8L791.1 597.3M715.9 625.8L718.5 624.9M698.9 639.7L700.6 637.4M820.9 653.7L823.1 652.2M171.8 942.2L173.5 943.8M740.2 736.1L742.1 734.8" fill="none" stroke="#4b7db4" stroke-width="2.4"/>
<path d="M450.0 147.6L452.7 146.8M573.0 183.0L575.8 183.0M575.7 182.5L578.5 182.5M583.0 183.3L585.6 183.1M581.7 221.5L584.2 221.6M736.6 251.9L738.2 254.1M844.6 207.5L846.3 209.3M692.0 293.5L694.2 295.1M706.2 337.9L707.6 340.2M639.2 350.8L641.2 352.9M640.7 352.9L642.8 355.0M642.8 354.5L644.9 356.5M728.1 360.0L729.6 362.4M733.6 368.8L735.2 371.2M749.9 378.1L751.4 380.3M806.1 384.8L806.7 387.5M819.4 419.7L820.8 421.8M820.3 422.1L821.7 424.2M819.7 340.2L820.8 342.4M815.7 350.1L816.8 352.3M697.0 421.7L698.4 424.1M745.0 421.9L745.9 424.2M745.8 424.0L746.7 426.3M767.0 420.0L767.4 422.6M843.5 325.8L844.5 328.5M800.0 524.0L801.5 522.0M702.0 595.5L704.4 594.5M736.3 603.4L738.6 601.7M892.0 609.8L893.4 607.4M894.7 605.5L896.2 603.2M638.6 611.9L640.2 614.0M675.3 470.8L676.4 472.9M376.1 525.9L377.7 527.8M377.4 527.9L379.0 529.8M380.4 531.3L382.0 533.2M506.3 590.9L508.8 591.6M510.0 594.2L512.4 594.8M489.6 508.7L492.2 509.7M731.6 840.7L734.0 839.8M733.8 839.9L736.2 839.0M901.2 726.2L903.3 724.1M489.1 783.0L491.7 783.0M573.6 782.8L576.7 782.6M580.8 782.4L583.9 782.2M932.5 860.4L934.7 859.2M862.0 779.1L864.3 778.0" fill="none" stroke="#4b7db4" stroke-width="1.6"/>
<path d="M426.1 173.2L428.7 172.3M428.3 172.2L431.0 171.3M435.3 169.6L437.9 168.7M823.2 345.9L824.4 348.1" fill="none" stroke="#64c3dc" stroke-width="1.8"/>
<path d="M430.7 171.5L433.3 170.6M437.8 169.2L440.4 168.2M417.0 490.2L418.4 492.4M341.0 712.2L342.4 714.4M893.2 734.2L894.9 732.6" fill="none" stroke="#64c3dc" stroke-width="1.6"/>
<path d="M433.1 170.9L435.8 170.0M416.1 488.0L417.5 490.1M1012.2 604.1L1012.9 601.6M968.2 769.2L970.0 767.1" fill="none" stroke="#64c3dc" stroke-width="1.2"/>
<path d="M439.8 167.6L442.3 166.6M651.6 363.6L653.2 365.6M652.6 365.7L654.2 367.6M656.8 370.9L658.4 372.8M752.4 397.9L753.0 400.6M810.1 396.0L811.6 398.6M795.9 302.0L797.0 304.7M799.1 308.5L800.1 311.1M802.1 317.6L803.1 320.2M720.9 419.9L721.8 422.2M798.4 466.6L798.9 468.9M660.0 629.3L662.0 628.1M657.0 608.0L659.0 610.0M327.2 927.1L329.7 928.3M335.6 931.5L338.1 932.8" fill="none" stroke="#14c81e" stroke-width="1.6"/>
<path d="M442.3 166.8L444.7 165.8M741.4 245.6L743.2 247.3M834.4 257.8L836.1 259.7M694.2 294.7L696.4 296.5M654.1 367.3L655.7 369.2M656.0 368.6L657.7 370.6M820.6 339.2L821.7 341.8M661.8 628.1L663.8 626.9M607.8 613.6L610.0 614.9M610.1 614.3L612.3 615.7M612.2 615.4L614.4 616.7M333.4 930.8L335.8 932.0M337.6 932.9L340.1 934.1" fill="none" stroke="#14c81e" stroke-width="2.2"/>
<path d="M444.5 165.7L447.0 164.6M558.5 176.9L561.2 176.9M579.0 183.0L581.6 183.2M581.5 183.4L584.1 183.6M860.8 71.2L862.7 72.6M846.1 328.1L846.9 330.2M799.6 310.9L800.6 313.5M800.6 313.1L801.6 315.7M717.9 411.2L718.9 413.5M768.5 426.0L768.9 428.1M797.9 464.5L798.5 466.8M691.1 650.6L693.7 649.5M802.0 921.3L804.5 920.2" fill="none" stroke="#14c81e" stroke-width="1.8"/>
<path d="M524.0 120.0L526.6 119.5M526.5 119.4L529.1 118.9M777.8 248.1L778.8 249.7M962.1 146.9L963.5 148.7M849.5 234.1L851.3 236.2M851.5 235.8L853.3 238.0M516.0 372.0L518.1 370.0M518.0 370.0L520.0 367.9M681.9 432.4L682.6 434.8M869.5 626.9L871.3 624.6M678.6 556.5L680.5 555.7M674.1 555.9L676.5 557.3M678.7 558.6L681.2 560.0M439.6 567.6L441.4 569.3M444.3 572.5L446.0 574.3M384.1 470.0L384.1 473.1M396.0 474.0L396.0 477.1M267.6 837.8L270.1 839.2M498.7 678.3L500.6 679.6M500.6 679.4L502.5 680.8M502.3 680.6L504.2 682.0M457.4 724.3L460.0 725.3M543.0 730.0L545.6 730.0M207.0 911.9L209.2 913.6M209.1 913.4L211.2 915.0M815.1 690.7L817.0 689.1M644.0 810.1L646.1 809.7M669.0 821.5L671.5 821.3M673.7 821.4L676.2 821.2M934.0 592.0L935.4 589.9M995.7 605.9L996.9 603.6M998.2 602.1L999.3 599.9M493.0 787.1L495.6 787.1M500.7 793.4L503.5 793.8M541.0 731.4L543.7 731.2M540.0 740.0L542.1 739.5M974.8 835.6L976.9 833.9M939.5 851.3L941.7 849.3M918.7 840.8L920.7 839.3M915.2 864.2L917.3 862.8M927.5 858.5L929.2 857.1M885.8 857.4L887.7 855.9M889.4 854.6L891.3 853.1M928.5 778.5L930.6 776.4M964.7 781.9L966.8 780.5M971.5 792.5L973.0 790.6M972.6 790.5L974.1 788.6M951.6 803.7L953.8 802.1M961.5 797.2L963.7 795.6M972.8 801.6L975.3 800.2M1010.3 818.1L1012.2 816.5M1013.7 815.1L1015.6 813.5M1015.6 813.7L1017.4 812.1M884.4 836.1L886.8 835.0M888.5 833.7L891.0 832.6M960.1 788.4L962.3 786.5M962.0 786.5L964.2 784.6M738.9 673.8L741.6 672.7M741.4 672.8L744.1 671.7M759.9 873.8L762.1 872.5M761.9 872.6L764.1 871.2M768.1 869.3L770.3 868.0M854.5 770.9L857.2 769.8M888.1 779.8L890.3 778.5M742.0 828.0L744.7 826.9M756.0 792.1L758.2 791.0" fill="none" stroke="#465fa0" stroke-width="0.8"/>
<path d="M533.0 141.3L535.7 141.0M578.3 182.8L581.2 182.8M739.7 255.8L741.3 258.0M850.2 214.6L851.8 216.5M708.1 342.2L709.6 344.6M712.8 347.7L714.2 350.0M713.9 349.7L715.4 352.1M792.1 306.0L793.6 308.3M794.2 310.3L795.8 312.7M699.3 426.3L700.7 428.6M742.8 417.8L743.8 420.1M744.0 419.8L744.9 422.1M846.4 333.4L847.5 336.1M802.9 515.9L805.1 514.3M740.6 600.1L742.8 598.3M792.6 595.8L794.6 594.3M859.6 607.8L860.9 605.6M865.1 600.2L866.4 598.0M895.4 603.0L896.8 600.7M637.2 609.9L638.7 612.0M658.9 474.1L659.9 476.1M692.6 462.5L693.6 465.0M514.5 595.0L516.9 595.5M420.5 662.1L422.9 663.5M393.4 485.3L394.8 487.7M683.1 814.8L685.7 814.4" fill="none" stroke="#4b7db4" stroke-width="2.0"/>
<path d="M535.5 141.4L538.2 141.1M538.0 141.2L540.7 140.9M812.6 189.9L814.6 191.7M859.8 70.5L861.9 72.4M847.5 210.9L849.2 212.8M848.8 212.8L850.4 214.7M822.0 423.8L823.4 425.9M797.1 314.2L798.7 316.5M843.8 328.6L844.9 331.3M723.2 457.9L724.2 460.0M699.7 585.2L702.0 583.8M697.7 597.0L700.0 596.0M694.2 464.6L695.3 467.0M173.8 943.2L175.4 944.8M175.3 944.7L176.9 946.3M732.8 740.8L734.8 739.4M893.4 607.8L894.8 605.4M894.5 605.5L895.8 603.1M895.3 603.0L896.7 600.6M972.7 574.7L974.1 572.9" fill="none" stroke="#4b7db4" stroke-width="2.2"/>
<path d="M551.0 177.0L553.7 177.0M553.5 176.5L556.2 176.5M556.0 176.3L558.7 176.3M701.5 358.7L703.0 361.2M708.7 360.2L710.3 362.3M744.8 385.9L745.3 388.8M753.1 403.0L753.7 405.7M844.4 321.9L845.2 324.0M845.0 323.9L845.8 326.1M845.5 326.0L846.3 328.2M801.5 315.3L802.5 317.9M802.9 319.8L804.0 322.5M705.0 416.5L705.3 419.1M705.5 418.8L705.8 421.4M755.2 412.3L755.8 414.9" fill="none" stroke="#14c81e" stroke-width="1.2"/>
<path d="M651.0 118.5L653.1 119.3M655.0 119.8L657.1 120.5" fill="none" stroke="#e60000" stroke-width="1.6"/>
<path d="M652.9 119.4L655.0 120.1M725.3 438.0L725.6 440.1" fill="none" stroke="#e60000" stroke-width="1.4"/>
<path d="M656.9 120.8L659.0 121.5M870.7 73.4L872.6 74.7M874.0 76.2L875.8 77.5M739.9 334.1L741.0 336.3M742.6 340.2L743.7 342.4M744.9 344.1L746.0 346.3M779.5 310.3L780.8 312.3M782.6 313.5L783.9 315.4" fill="none" stroke="#ffdc0a" stroke-width="1.6"/>
<path d="M659.2 120.7L661.3 121.4M741.9 338.1L743.0 340.3M744.3 341.8L745.5 344.1M746.5 354.2L747.8 356.3M736.5 373.5L738.0 376.1M785.0 317.0L786.4 319.0" fill="none" stroke="#ffdc0a" stroke-width="1.4"/>
<path d="M660.8 122.3L663.0 123.0M868.7 72.4L870.6 73.7M741.4 378.0L741.7 380.5M718.0 437.8L718.3 440.4M717.3 440.3L717.6 442.9" fill="none" stroke="#ffdc0a" stroke-width="2.0"/>
<path d="M805.4 183.5L807.4 185.3M870.2 251.0L872.3 252.3M873.8 254.1L875.9 255.5M791.8 298.1L793.1 300.3M796.9 305.9L798.2 308.1M186.3 625.8L187.4 628.1M187.1 627.9L188.3 630.2M510.1 689.9L512.1 690.9" fill="none" stroke="#5a9bc8" stroke-width="2.0"/>
<path d="M806.4 186.0L808.4 187.8M853.7 65.3L855.9 67.2M788.4 299.8L789.9 302.1M724.5 438.4L725.0 441.6M725.5 448.1L726.0 451.3M713.7 626.9L716.2 626.0M720.6 624.2L723.2 623.2M708.0 630.2L710.2 628.3M817.1 656.6L819.3 655.2M822.7 652.0L824.9 650.5M629.5 644.0L631.9 643.5M369.6 675.5L371.8 677.1M372.3 676.1L374.5 677.7M375.9 679.6L378.1 681.2M736.5 738.5L738.5 737.2M738.0 736.9L740.0 735.5" fill="none" stroke="#4b7db4" stroke-width="2.6"/>
<path d="M786.0 228.1L788.1 229.8M666.6 241.1L668.3 242.9M844.2 261.8L845.8 263.4M847.0 265.0L848.6 266.6M238.1 446.0L238.1 448.7M687.7 290.8L689.9 292.5M694.0 325.1L696.2 327.1M644.2 356.8L646.3 358.8M730.7 364.5L732.2 366.9M745.8 372.1L747.3 374.4M753.0 381.8L754.5 384.0M807.1 389.7L807.7 392.3M822.8 297.0L823.7 299.1M1004.3 296.2L1005.2 298.9M1005.2 298.6L1006.1 301.2M697.6 603.1L700.4 602.1M705.0 600.1L707.7 599.2M893.4 607.7L894.8 605.4M686.1 473.0L687.6 475.6M679.9 641.5L682.1 642.2M630.7 569.4L632.1 571.2M452.9 651.1L454.7 653.2M392.0 483.0L393.4 485.5M421.6 494.0L423.5 496.1M427.9 501.6L430.1 503.3M487.1 507.8L489.7 508.9M495.4 511.6L497.0 513.3M498.6 514.4L500.2 516.0M909.3 563.1L910.6 560.8M962.9 593.0L963.4 590.4M963.2 590.4L963.7 587.8M999.2 600.1L1000.4 597.9M999.8 597.9L1000.9 595.7M927.9 630.9L929.5 628.5M931.0 626.7L932.5 624.3M870.0 627.0L871.4 624.6M557.6 768.8L560.3 768.6M557.0 763.0L559.6 762.7M567.2 756.4L569.8 756.2M503.3 793.8L506.1 794.2M873.9 851.6L876.5 850.7M897.6 838.9L900.2 837.6M744.5 827.1L747.2 826.0" fill="none" stroke="#4b7db4" stroke-width="1.2"/>
<path d="M787.8 229.9L790.0 231.6M867.9 77.1L869.8 78.4M869.6 78.4L871.5 79.7M834.0 254.1L835.9 255.8M835.1 256.2L837.0 257.9M646.1 358.6L648.1 360.6M821.9 344.1L823.0 346.3M794.3 302.0L795.6 304.2M768.2 427.0L768.7 429.6M1014.8 292.1L1015.6 294.3M971.2 393.1L971.8 395.1M182.8 620.1L183.9 622.3M334.3 593.8L336.0 595.9M512.4 678.7L514.1 680.1M514.3 679.8L516.0 681.2M508.1 688.7L510.2 689.8" fill="none" stroke="#5a9bc8" stroke-width="1.8"/>
<path d="M736.9 245.1L738.7 247.2M746.3 256.2L748.1 258.4M232.2 869.8L234.2 871.2" fill="none" stroke="#5a9bc8" stroke-width="4.0"/>
<path d="M738.4 247.0L740.2 249.1M485.2 621.4L487.8 622.3M494.6 625.3L497.2 626.2" fill="none" stroke="#5a9bc8" stroke-width="4.4"/>
<path d="M740.5 248.4L742.3 250.5" fill="none" stroke="#5a9bc8" stroke-width="4.8"/>
<path d="M741.7 250.6L743.5 252.7M725.2 647.8L727.5 646.7" fill="none" stroke="#5a9bc8" stroke-width="4.2"/>
<path d="M743.1 252.6L744.9 254.7M724.0 636.0L726.4 634.8M732.9 632.4L735.3 631.1M487.3 778.6L490.2 778.6" fill="none" stroke="#4b7db4" stroke-width="4.4"/>
<path d="M745.3 253.9L747.1 256.0M226.8 866.3L228.8 867.6" fill="none" stroke="#5a9bc8" stroke-width="3.8"/>
<path d="M742.2 248.0L743.9 249.8M862.8 72.2L864.7 73.5M930.0 200.9L931.5 203.0M862.6 236.3L864.1 238.5M833.8 255.4L835.5 257.3M696.1 296.5L698.3 298.3M701.9 301.6L704.1 303.3M817.6 428.2L818.8 430.4M819.6 432.2L820.7 434.5M821.3 341.6L822.4 344.2M799.0 468.7L799.5 471.0M686.0 652.1L688.7 651.0M674.1 655.1L676.6 654.1M222.5 615.7L224.0 617.9M131.8 740.7L133.4 743.0M138.9 750.8L140.5 753.1M204.2 906.8L206.3 908.4M206.3 908.1L208.5 909.7M887.4 715.1L889.3 713.2" fill="none" stroke="#14c81e" stroke-width="2.6"/>
<path d="M743.9 249.5L745.6 251.3M832.1 253.9L833.7 255.9M688.4 650.9L691.0 649.8M693.2 649.0L695.8 647.9M667.6 657.4L670.0 656.4M669.6 656.3L672.0 655.3M856.6 614.4L857.8 612.0M605.7 612.4L607.9 613.8M404.2 580.7L405.8 583.0M136.9 749.2L138.6 751.4M893.9 708.2L895.8 706.4" fill="none" stroke="#14c81e" stroke-width="3.0"/>
<path d="M745.4 251.2L747.1 253.0M746.9 252.9L748.7 254.6M864.6 73.3L866.5 74.7M866.5 74.4L868.4 75.7M926.6 197.8L928.1 199.8M700.1 299.7L702.3 301.5M658.2 372.6L659.8 374.6M811.5 398.5L813.1 401.1M799.4 470.9L799.9 473.2M329.2 928.5L331.7 929.7M341.6 935.4L344.1 936.6" fill="none" stroke="#14c81e" stroke-width="2.0"/>
<path d="M866.2 75.7L868.1 77.0M870.9 80.2L872.8 81.6M315.4 751.6L317.5 753.3M228.7 867.4L230.7 868.7" fill="none" stroke="#5a9bc8" stroke-width="2.6"/>
<path d="M872.4 74.6L874.3 76.0M741.8 380.3L742.1 382.8M781.2 311.8L782.5 313.8" fill="none" stroke="#ffdc0a" stroke-width="2.2"/>
<path d="M874.6 76.5L876.8 78.1" fill="none" stroke="#4b7d0a" stroke-width="2.4"/>
<path d="M876.7 77.9L878.9 79.5" fill="none" stroke="#4b7d0a" stroke-width="2.2"/>
<path d="M879.1 78.8L881.3 80.5M881.2 80.2L883.4 81.8" fill="none" stroke="#4b7d0a" stroke-width="2.6"/>
<path d="M922.9 192.1L924.3 194.2M705.7 338.3L707.1 340.2M816.4 330.1L817.5 332.7M695.4 567.7L697.7 566.6M410.0 592.5L412.1 594.4M414.6 488.3L416.2 490.5M464.8 727.4L466.9 728.4M791.1 925.8L793.6 924.6" fill="none" stroke="#41d76e" stroke-width="2.4"/>
<path d="M924.0 194.1L925.5 196.2M951.1 200.9L952.6 203.1M953.9 204.9L955.4 207.1M955.0 207.0L956.5 209.2M703.0 335.0L704.3 336.9M448.8 577.2L450.4 578.8M450.1 578.9L451.7 580.5" fill="none" stroke="#41d76e" stroke-width="2.8"/>
<path d="M925.3 195.9L926.8 198.0M727.6 338.1L729.5 340.3M786.9 319.2L788.2 321.0M796.8 304.3L797.8 306.9M447.2 575.8L448.8 577.4" fill="none" stroke="#41d76e" stroke-width="1.8"/>
<path d="M928.6 199.1L930.1 201.2M957.3 211.3L958.8 213.5" fill="none" stroke="#41d76e" stroke-width="2.6"/>
<path d="M952.2 203.1L953.7 205.3M841.9 318.0L843.0 320.6M844.1 325.0L845.1 327.6" fill="none" stroke="#64d7c3" stroke-width="3.0"/>
<path d="M956.2 209.1L957.7 211.3M701.6 333.3L702.9 335.2M705.0 336.2L706.3 338.0M408.2 590.6L410.3 592.4M412.0 594.3L414.1 596.2M801.6 736.2L804.1 734.6" fill="none" stroke="#41d76e" stroke-width="2.2"/>
<path d="M964.7 150.3L966.1 152.1M238.1 441.0L238.1 443.7M238.0 443.5L238.0 446.2M648.5 359.9L650.5 361.9M751.6 379.8L753.1 382.1M815.9 410.0L816.1 412.6M849.2 315.9L850.3 318.0M823.3 299.1L824.1 301.2M824.3 301.0L825.1 303.1M682.5 434.6L683.2 436.9M798.1 460.0L798.4 462.2M1002.6 291.5L1003.5 294.1M700.1 602.2L702.8 601.2M702.6 601.2L705.3 600.3M508.6 591.4L511.1 592.1M454.8 652.9L456.6 655.0M419.7 492.2L421.7 494.4M430.0 503.0L432.1 504.7M431.8 504.7L434.0 506.3M479.0 856.1L481.4 856.8M898.8 727.8L900.9 725.7M908.1 565.1L909.5 562.8M911.3 558.9L912.6 556.6M913.7 554.9L915.0 552.7M935.4 590.0L936.8 587.9M871.3 624.8L872.7 622.4M872.7 622.6L874.1 620.2M1026.1 462.0L1026.1 464.8M1026.1 467.3L1026.1 470.2M567.5 779.4L570.4 779.2M543.5 731.5L546.2 731.2M550.0 755.2L552.9 754.9M891.4 853.6L893.3 852.1M957.5 799.7L959.7 798.1M964.2 784.9L966.3 783.1M842.0 757.1L844.3 756.0M740.0 808.0L742.7 806.9" fill="none" stroke="#4b7db4" stroke-width="1.0"/>
<path d="M860.3 236.1L862.0 238.4M869.8 241.7L871.3 243.9" fill="none" stroke="#5a9bc8" stroke-width="3.4"/>
<path d="M862.4 237.7L864.1 240.0M722.0 608.1L724.2 607.0M526.0 779.4L528.6 779.3" fill="none" stroke="#4b7db4" stroke-width="3.4"/>
<path d="M863.8 239.8L865.5 242.0M872.5 248.8L874.2 250.9M724.1 460.0L725.1 462.1M627.2 644.3L629.6 643.8" fill="none" stroke="#4b7db4" stroke-width="3.8"/>
<path d="M866.7 243.9L868.4 246.1M873.6 250.8L875.3 252.9M875.4 252.3L877.1 254.4M725.2 440.7L725.8 443.9M725.6 445.6L726.1 448.8M727.9 457.6L728.4 460.7M722.5 455.8L723.5 457.9M720.2 609.3L722.3 608.3M724.0 607.1L726.2 606.0M718.2 624.8L720.8 623.9M720.8 649.6L723.1 648.6M946.5 802.8L949.0 801.2" fill="none" stroke="#4b7db4" stroke-width="3.6"/>
<path d="M864.5 237.9L866.0 240.1M816.4 332.8L817.6 335.4M225.8 622.2L227.4 624.4M968.8 580.0L970.1 577.8" fill="none" stroke="#14b41e" stroke-width="3.2"/>
<path d="M865.3 240.2L866.8 242.4M836.3 259.2L837.9 261.1M848.6 265.0L850.6 266.8M819.0 337.1L820.1 339.7M693.2 568.6L695.5 567.5M695.4 647.5L698.0 646.4M676.5 654.7L678.9 653.7M678.2 652.9L680.7 651.9M134.0 745.2L135.7 747.5M136.1 746.7L137.7 749.0M202.1 905.4L204.3 907.0M966.5 584.0L967.8 581.8" fill="none" stroke="#14c81e" stroke-width="2.8"/>
<path d="M866.6 242.2L868.1 244.5M869.9 245.7L871.4 248.0M817.2 425.9L818.3 428.1M819.4 429.8L820.5 432.1M815.4 327.8L816.6 330.4M223.9 617.7L225.4 619.9M225.3 619.6L226.9 621.8M129.9 739.1L131.5 741.4M133.0 742.9L134.6 745.2M199.8 904.2L202.0 905.8" fill="none" stroke="#14c81e" stroke-width="3.2"/>
<path d="M868.2 244.0L869.6 246.3M841.3 259.3L843.2 261.1M845.1 262.0L847.0 263.8" fill="none" stroke="#14c81e" stroke-width="3.8"/>
<path d="M870.8 248.0L872.2 250.3M858.0 233.5L859.7 235.5M846.3 264.1L848.3 265.9M719.5 650.4L722.2 649.3M671.8 655.6L674.2 654.5M855.4 616.5L856.6 614.1M405.6 582.7L407.2 585.0M407.4 587.3L409.0 589.7M889.3 713.6L891.1 711.7" fill="none" stroke="#14c81e" stroke-width="3.6"/>
<path d="M870.4 244.1L871.9 246.4M875.5 252.1L877.0 254.4M316.9 753.8L319.0 755.6M230.6 868.4L232.6 869.7" fill="none" stroke="#5a9bc8" stroke-width="3.0"/>
<path d="M871.3 246.3L872.8 248.6M723.8 431.1L724.3 434.3M726.8 455.3L727.3 458.5M728.6 459.9L729.2 463.1M766.7 509.3L768.2 507.0M722.8 622.8L725.4 621.9M625.0 645.1L627.5 644.6M734.8 739.8L736.8 738.5M494.0 790.2L496.1 790.6" fill="none" stroke="#4b7db4" stroke-width="3.0"/>
<path d="M873.5 247.8L874.9 250.1M870.8 247.2L872.5 249.3M725.8 443.1L726.3 446.3M631.7 643.2L634.1 642.7M461.6 662.4L463.3 663.8" fill="none" stroke="#5a9bc8" stroke-width="2.8"/>
<path d="M838.0 260.6L839.7 262.5M840.7 258.1L842.3 260.4" fill="none" stroke="#14b41e" stroke-width="2.6"/>
<path d="M839.5 262.3L841.2 264.2M697.7 298.6L699.9 300.4M650.1 361.9L651.7 363.9M697.4 566.5L699.8 565.3M656.3 631.5L658.3 630.3M658.0 630.2L660.1 629.0M409.5 588.8L411.1 591.1M410.4 591.2L412.0 593.5M227.7 624.0L229.2 626.2M885.8 716.8L887.6 714.9M892.4 710.1L894.3 708.2" fill="none" stroke="#14c81e" stroke-width="2.4"/>
<path d="M840.2 264.6L841.8 266.6M814.6 422.2L815.7 424.4M818.3 334.7L819.4 337.3M691.2 570.0L693.5 568.8M699.5 565.4L701.9 564.2M716.9 651.5L719.6 650.3M665.5 658.4L667.9 657.4M855.0 619.0L856.2 616.6M967.5 581.9L968.8 579.7" fill="none" stroke="#14c81e" stroke-width="3.4"/>
<path d="M837.6 254.3L839.2 256.6M361.7 938.7L364.3 939.5" fill="none" stroke="#12a01c" stroke-width="2.2"/>
<path d="M839.8 255.7L841.5 258.0" fill="none" stroke="#12a01c" stroke-width="2.6"/>
<path d="M842.0 260.2L843.7 262.5" fill="none" stroke="#108c1a" stroke-width="3.2"/>
<path d="M843.7 262.0L845.4 264.3M845.1 264.0L846.7 266.3M846.1 266.3L847.7 268.6" fill="none" stroke="#12a01c" stroke-width="3.2"/>
<path d="M845.8 263.2L847.4 264.8M689.9 292.2L692.0 293.8M747.6 373.8L749.1 376.1M748.8 375.9L750.3 378.1M813.8 346.1L814.9 348.2M849.9 318.0L851.0 320.1M767.7 424.7L768.2 427.3M1001.7 289.1L1002.6 291.7M800.9 517.8L803.2 516.2M704.2 594.6L706.5 593.7M700.0 637.1L701.7 634.9M822.8 651.8L824.6 650.4M824.8 650.8L826.5 649.4M657.9 472.1L658.9 474.2M675.9 473.1L676.9 475.1M692.1 460.0L693.1 462.4M717.6 465.2L718.6 467.8M670.0 634.0L672.1 635.4M674.1 636.6L676.2 638.0M675.9 640.2L678.1 640.9M678.0 640.6L680.1 641.3M631.5 571.5L632.9 573.3M466.0 592.1L468.1 591.3M430.1 603.7L432.7 604.3M516.8 595.2L519.3 595.7M418.2 660.6L420.7 662.0M422.5 663.9L425.0 665.3M423.2 496.0L425.1 498.1M426.6 499.7L428.6 501.8M176.9 946.1L178.5 947.7M725.0 843.0L727.4 842.1M727.1 842.0L729.5 841.0M735.9 839.1L738.4 838.2M892.2 610.1L893.6 607.7M569.6 756.4L572.3 756.2" fill="none" stroke="#4b7db4" stroke-width="1.4"/>
<path d="M822.6 297.4L823.8 299.4M823.7 299.2L824.9 301.3M237.8 448.5L237.8 451.2M252.8 441.0L252.8 443.6M252.6 443.5L252.6 446.1M816.3 414.8L816.5 417.4M816.8 419.6L817.0 422.2M821.7 295.1L822.6 297.3M798.5 462.0L798.8 464.2M672.0 641.9L674.1 642.9M673.9 643.1L676.0 644.2M456.5 654.8L458.3 657.0M425.2 497.5L427.2 499.6M428.5 501.4L430.4 503.5M430.0 503.4L432.0 505.5M425.8 500.2L428.0 501.8M494.2 509.8L495.8 511.4M497.1 512.9L498.7 514.6M910.4 561.1L911.7 558.8M912.5 556.9L913.8 554.6M920.9 560.0L921.4 557.4M921.7 557.5L922.2 554.9M929.4 628.8L930.9 626.4M932.4 624.5L933.9 622.1M933.6 622.2L935.1 619.8M873.8 620.3L875.2 617.9M1026.0 464.7L1026.0 467.5M885.1 464.0L885.6 466.1M885.4 466.0L885.9 468.1M572.5 779.1L575.4 779.0M955.6 801.2L957.9 799.6" fill="none" stroke="#4b7db4" stroke-width="0.8"/>
<path d="M859.7 235.0L861.4 237.0M684.7 646.8L687.1 645.9" fill="none" stroke="#14c81e" stroke-width="5.0"/>
<path d="M861.3 236.6L863.1 238.5M868.4 245.4L870.2 247.3M963.8 587.9L965.1 585.7" fill="none" stroke="#14c81e" stroke-width="4.8"/>
<path d="M862.3 238.7L864.1 240.7M837.7 256.3L839.7 258.1" fill="none" stroke="#14b41e" stroke-width="3.4"/>
<path d="M863.7 240.5L865.5 242.4M858.5 610.0L859.7 607.5" fill="none" stroke="#14c81e" stroke-width="4.4"/>
<path d="M865.6 241.9L867.3 243.8" fill="none" stroke="#14b41e" stroke-width="4.2"/>
<path d="M866.7 243.9L868.4 245.9" fill="none" stroke="#14b41e" stroke-width="3.0"/>
<path d="M863.7 238.3L865.4 240.4" fill="none" stroke="#465fa0" stroke-width="5.0"/>
<path d="M865.2 240.0L866.9 242.1M720.6 603.1L722.8 601.9" fill="none" stroke="#4b7db4" stroke-width="5.0"/>
<path d="M866.7 241.7L868.4 243.8M724.7 601.3L726.9 600.2M728.7 634.7L731.1 633.5M730.4 632.6L732.8 631.4M819.3 655.5L821.4 654.0" fill="none" stroke="#4b7db4" stroke-width="4.2"/>
<path d="M868.1 243.5L869.8 245.6" fill="none" stroke="#4b7db4" stroke-width="4.6"/>
<path d="M870.1 244.9L871.8 247.0M722.9 602.5L725.0 601.4M723.2 649.1L725.5 648.1" fill="none" stroke="#4b7db4" stroke-width="4.0"/>
<path d="M832.1 252.9L833.9 254.6M838.9 258.8L840.7 260.5M711.3 345.8L712.7 348.1M818.7 338.1L819.9 340.4M793.5 299.8L794.9 302.0M795.7 304.0L797.0 306.2M728.3 449.5L728.8 452.2M1015.7 294.0L1016.5 296.2M649.0 611.0L651.0 613.0M419.0 491.8L420.4 493.9M183.6 622.2L184.7 624.4M347.0 718.1L348.7 719.5" fill="none" stroke="#5a9bc8" stroke-width="1.6"/>
<path d="M836.8 257.8L838.6 259.5M820.8 342.1L821.9 344.3M971.6 390.9L972.1 392.9M457.6 660.5L459.4 661.9M511.0 677.0L512.7 678.4" fill="none" stroke="#5a9bc8" stroke-width="2.4"/>
<path d="M839.9 257.3L841.9 259.1M816.1 423.9L817.2 426.2M857.8 612.3L859.0 609.9M402.2 579.1L403.8 581.4" fill="none" stroke="#14c81e" stroke-width="4.0"/>
<path d="M842.9 261.0L844.8 262.8M693.4 644.3L695.9 643.4M853.3 620.9L854.5 618.5" fill="none" stroke="#14c81e" stroke-width="4.2"/>
<path d="M842.4 254.7L844.0 256.5" fill="none" stroke="#0e7818" stroke-width="3.6"/>
<path d="M843.7 256.6L845.3 258.5" fill="none" stroke="#0e7818" stroke-width="2.8"/>
<path d="M844.8 258.7L846.4 260.6M847.0 259.8L848.6 261.7M1017.8 300.1L1018.6 302.6M1020.9 308.6L1021.7 311.1M1020.8 311.0L1021.6 313.5M99.5 762.4L100.8 764.2" fill="none" stroke="#0e7818" stroke-width="2.2"/>
<path d="M474.7 306.7L476.3 307.7M637.3 817.1L640.2 817.1M482.0 777.7L484.8 777.7M532.7 779.5L535.4 779.3M537.3 779.5L539.9 779.4M573.6 789.5L576.5 789.4" fill="none" stroke="#465fa0" stroke-width="3.4"/>
<path d="M410.2 315.7L412.3 314.2M504.0 771.0L506.8 771.0M495.3 759.4L498.0 759.3M959.4 798.2L961.6 796.7M749.9 680.8L752.0 679.7M752.3 869.1L754.9 867.9M752.1 794.2L754.2 793.1M753.9 792.8L756.1 791.8" fill="none" stroke="#5569a5" stroke-width="1.2"/>
<path d="M374.8 352.0L375.2 354.1M375.9 356.0L376.2 358.1M700.1 356.5L701.5 358.9M706.6 430.2L706.9 432.8M756.7 419.5L757.3 422.1M767.8 424.0L768.2 426.2" fill="none" stroke="#14c81e" stroke-width="1.0"/>
<path d="M375.4 354.0L375.8 356.1M726.2 335.8L728.1 337.9M729.2 340.3L731.0 342.5M699.2 353.9L700.6 356.4M710.4 362.1L711.9 364.2M745.4 388.6L745.9 391.4M745.4 391.3L746.0 394.2M753.5 405.5L754.0 408.2M705.9 423.3L706.3 426.0M706.5 425.6L706.8 428.2M718.4 413.5L719.3 415.8M719.6 415.5L720.5 417.8M720.7 417.5L721.6 419.9M756.0 417.2L756.6 419.7M339.9 933.6L342.3 934.9" fill="none" stroke="#14c81e" stroke-width="1.4"/>
<path d="M413.0 412.6L415.8 412.6" fill="none" stroke="#64d7c3" stroke-width="5.0"/>
<path d="M415.7 412.5L418.5 412.5M797.6 382.6L798.3 385.2M799.0 387.2L799.7 389.9M799.1 389.7L799.8 392.4M811.1 341.9L812.2 344.2M813.0 346.0L814.1 348.3M813.9 348.0L815.0 350.3M845.3 327.4L846.2 329.9" fill="none" stroke="#64d7c3" stroke-width="3.2"/>
<path d="M418.3 413.5L421.2 413.5M843.4 322.6L844.4 325.2" fill="none" stroke="#64d7c3" stroke-width="4.2"/>
<path d="M646.1 363.9L647.7 366.1" fill="none" stroke="#64d7c3" stroke-width="1.0"/>
<path d="M649.0 368.0L650.6 370.2M184.7 624.1L185.9 626.4M284.8 787.7L287.3 788.7" fill="none" stroke="#64c3dc" stroke-width="1.4"/>
<path d="M721.9 334.1L724.1 336.0M610.6 616.0L613.3 616.5M392.5 574.7L394.3 576.6M343.7 715.4L345.4 716.8M345.3 716.7L347.1 718.2" fill="none" stroke="#64c3dc" stroke-width="2.2"/>
<path d="M723.7 335.9L725.8 337.9M729.5 340.8L731.6 342.8M459.9 661.0L461.7 662.4M499.2 687.5L501.3 688.6" fill="none" stroke="#64c3dc" stroke-width="2.6"/>
<path d="M726.0 337.1L728.1 339.1M731.5 342.3L733.6 344.3" fill="none" stroke="#64c3dc" stroke-width="3.8"/>
<path d="M727.3 339.5L729.4 341.4M387.5 569.4L389.3 571.4M394.7 575.9L396.4 577.9" fill="none" stroke="#64c3dc" stroke-width="2.8"/>
<path d="M733.2 344.2L735.3 346.2" fill="none" stroke="#64c3dc" stroke-width="3.6"/>
<path d="M731.4 341.9L733.3 344.0" fill="none" stroke="#14b41e" stroke-width="1.8"/>
<path d="M741.2 335.9L742.3 338.1M783.5 315.4L784.8 317.4M716.8 433.0L717.1 435.7M717.6 442.7L717.9 445.3" fill="none" stroke="#ffdc0a" stroke-width="1.8"/>
<path d="M746.1 332.0L747.6 333.9" fill="none" stroke="#aeb20c" stroke-width="1.4"/>
<path d="M747.3 333.9L748.8 335.9M750.1 337.5L751.6 339.5M750.8 432.5L751.5 434.8" fill="none" stroke="#aeb20c" stroke-width="1.6"/>
<path d="M748.8 335.6L750.3 337.6" fill="none" stroke="#aeb20c" stroke-width="1.0"/>
<path d="M751.5 339.3L753.0 341.3M751.3 434.7L752.0 436.9" fill="none" stroke="#aeb20c" stroke-width="1.8"/>
<path d="M742.9 348.1L744.2 350.2" fill="none" stroke="#ffdc0a" stroke-width="0.8"/>
<path d="M744.0 350.2L745.3 352.3M745.3 352.1L746.7 354.3" fill="none" stroke="#ffdc0a" stroke-width="1.2"/>
<path d="M734.8 371.1L736.3 373.7" fill="none" stroke="#ffdc0a" stroke-width="1.0"/>
<path d="M742.7 382.6L742.9 385.1M717.2 435.4L717.6 438.0" fill="none" stroke="#ffdc0a" stroke-width="2.4"/>
<path d="M742.4 385.0L742.6 387.5" fill="none" stroke="#ff9b00" stroke-width="2.6"/>
<path d="M742.0 387.4L742.3 389.9M717.3 439.0L717.6 441.2M724.3 437.3L724.7 439.7" fill="none" stroke="#ff9b00" stroke-width="2.0"/>
<path d="M742.3 389.7L742.6 392.2" fill="none" stroke="#ff9b00" stroke-width="2.2"/>
<path d="M752.2 400.6L752.7 403.3M405.8 589.2L408.0 591.1M789.4 927.5L791.8 926.4M795.3 923.5L797.7 922.4" fill="none" stroke="#41d76e" stroke-width="1.6"/>
<path d="M795.8 378.1L796.6 380.7" fill="none" stroke="#64d7c3" stroke-width="2.6"/>
<path d="M796.5 380.4L797.2 383.0M812.4 343.8L813.6 346.0M413.1 486.3L414.7 488.5" fill="none" stroke="#64d7c3" stroke-width="2.4"/>
<path d="M798.4 384.9L799.1 387.5M842.7 320.3L843.7 322.9M846.6 329.2L847.6 331.8" fill="none" stroke="#64d7c3" stroke-width="3.4"/>
<path d="M807.6 390.2L808.7 392.4" fill="none" stroke="#ffdc0a" stroke-width="4.2"/>
<path d="M808.6 392.2L809.7 394.4M812.3 397.9L813.4 400.1" fill="none" stroke="#ffdc0a" stroke-width="2.6"/>
<path d="M809.7 394.2L810.8 396.4" fill="none" stroke="#ffdc0a" stroke-width="2.8"/>
<path d="M811.0 396.0L812.1 398.2" fill="none" stroke="#ffdc0a" stroke-width="3.0"/>
<path d="M808.9 404.1L809.9 406.2M810.5 408.3L811.6 410.4M455.7 631.5L457.9 632.6M906.4 570.2L907.7 572.6M907.1 572.7L908.5 575.1M920.2 569.9L922.0 567.8M535.0 779.5L537.6 779.4M564.0 789.3L566.9 789.1M491.9 790.5L494.0 790.9" fill="none" stroke="#465fa0" stroke-width="3.2"/>
<path d="M816.4 412.4L816.6 415.0M727.7 447.1L728.2 449.8M707.5 599.3L710.2 598.3M504.0 589.9L506.5 590.6M101.7 714.2L103.2 716.6M109.5 727.0L111.0 729.4" fill="none" stroke="#5a9bc8" stroke-width="1.0"/>
<path d="M810.2 339.9L811.3 342.1M282.1 787.5L284.6 788.5M897.7 729.7L899.3 728.1" fill="none" stroke="#64d7c3" stroke-width="2.2"/>
<path d="M815.4 349.8L816.5 352.1" fill="none" stroke="#64d7c3" stroke-width="2.8"/>
<path d="M845.2 327.1L846.2 329.7M841.6 319.1L842.5 321.6M844.7 325.2L845.6 327.7M845.9 329.6L846.7 332.0" fill="none" stroke="#64d7c3" stroke-width="3.8"/>
<path d="M847.4 331.5L848.4 334.1" fill="none" stroke="#41d76e" stroke-width="3.0"/>
<path d="M848.3 333.7L849.3 336.3M847.4 333.8L848.3 336.3" fill="none" stroke="#64d7c3" stroke-width="4.0"/>
<path d="M782.8 314.1L784.2 316.0M785.2 317.7L786.5 319.6M705.6 421.1L705.9 423.7M411.8 484.1L413.5 486.3M416.1 490.3L417.8 492.4" fill="none" stroke="#41d76e" stroke-width="1.4"/>
<path d="M783.9 316.0L785.3 317.9" fill="none" stroke="#41d76e" stroke-width="1.2"/>
<path d="M789.4 302.0L791.0 304.3M796.2 311.9L797.8 314.2M799.0 315.8L800.6 318.1M721.8 426.5L722.4 429.7M723.6 433.6L724.1 436.8M726.7 450.4L727.2 453.5M695.8 588.5L698.1 587.1M697.3 586.2L699.7 584.8" fill="none" stroke="#4b7db4" stroke-width="2.8"/>
<path d="M798.1 306.3L799.1 309.0" fill="none" stroke="#14b41e" stroke-width="1.0"/>
<path d="M706.6 427.9L706.9 430.5M768.9 428.0L769.3 430.1" fill="none" stroke="#14b41e" stroke-width="1.4"/>
<path d="M756.1 414.6L756.6 417.2" fill="none" stroke="#14b41e" stroke-width="0.8"/>
<path d="M750.6 430.2L751.3 432.5" fill="none" stroke="#aeb20c" stroke-width="2.6"/>
<path d="M757.7 434.6L758.5 437.2M757.8 437.2L758.6 439.8M758.8 439.6L759.6 442.1M280.1 785.8L282.6 786.8" fill="none" stroke="#64d7c3" stroke-width="2.0"/>
<path d="M717.5 437.0L717.8 439.1" fill="none" stroke="#ff9b00" stroke-width="1.6"/>
<path d="M717.6 441.0L717.9 443.2" fill="none" stroke="#ff9b00" stroke-width="1.4"/>
<path d="M722.5 428.9L723.0 432.0M454.1 629.7L456.2 630.8M905.0 568.0L906.4 570.4M932.4 587.7L933.5 590.4M518.8 783.4L521.4 783.4M523.6 783.3L526.2 783.3M552.0 790.6L554.9 790.5M1015.9 823.4L1017.9 821.7" fill="none" stroke="#465fa0" stroke-width="2.8"/>
<path d="M723.5 436.1L724.0 439.3M765.0 511.3L766.5 509.0M693.0 588.8L695.3 587.3M539.5 778.9L542.1 778.7" fill="none" stroke="#4b7db4" stroke-width="3.2"/>
<path d="M724.8 435.0L725.2 437.4" fill="none" stroke="#ff9b00" stroke-width="2.4"/>
<path d="M724.9 439.5L725.3 441.9" fill="none" stroke="#ff9b00" stroke-width="3.0"/>
<path d="M725.7 441.6L726.1 444.0" fill="none" stroke="#ff9b00" stroke-width="2.8"/>
<path d="M725.8 443.8L726.2 446.3" fill="none" stroke="#ff9b00" stroke-width="1.8"/>
<path d="M725.8 440.0L726.1 442.1M725.9 442.0L726.2 444.1" fill="none" stroke="#e60000" stroke-width="1.2"/>
<path d="M793.1 465.4L793.8 467.7" fill="none" stroke="#ffb900" stroke-width="2.6"/>
<path d="M793.3 467.6L794.0 469.9" fill="none" stroke="#ffb900" stroke-width="3.2"/>
<path d="M793.5 469.9L794.2 472.1" fill="none" stroke="#ffb900" stroke-width="3.0"/>
<path d="M794.4 471.9L795.1 474.1" fill="none" stroke="#ffb900" stroke-width="2.8"/>
<path d="M1016.7 298.1L1017.5 300.5M1020.1 306.5L1020.9 308.9M103.0 765.1L104.4 767.0" fill="none" stroke="#0e7818" stroke-width="2.4"/>
<path d="M1019.0 302.1L1019.8 304.5" fill="none" stroke="#0e7818" stroke-width="1.6"/>
<path d="M1018.8 304.6L1019.6 307.0M877.6 479.4L878.3 482.2M196.9 620.1L198.3 622.2M198.5 621.9L199.9 624.0" fill="none" stroke="#0e7818" stroke-width="1.8"/>
<path d="M843.1 321.0L844.0 323.5M843.7 323.2L844.6 325.6" fill="none" stroke="#64d7c3" stroke-width="3.6"/>
<path d="M846.3 331.8L847.2 334.3M612.9 617.3L615.6 617.9M501.3 688.5L503.3 689.5" fill="none" stroke="#64c3dc" stroke-width="3.2"/>
<path d="M716.7 605.1L718.9 604.0" fill="none" stroke="#5a9bc8" stroke-width="6.8"/>
<path d="M719.0 604.7L721.2 603.5" fill="none" stroke="#4b7db4" stroke-width="6.0"/>
<path d="M726.5 599.9L728.6 598.7" fill="none" stroke="#4b7db4" stroke-width="6.6"/>
<path d="M722.1 637.4L724.5 636.2" fill="none" stroke="#5a9bc8" stroke-width="6.0"/>
<path d="M726.0 634.7L728.5 633.5" fill="none" stroke="#4b7db4" stroke-width="5.8"/>
<path d="M734.7 630.5L737.1 629.3" fill="none" stroke="#4b7db4" stroke-width="4.8"/>
<path d="M682.5 647.5L685.0 646.6" fill="none" stroke="#14c81e" stroke-width="4.6"/>
<path d="M686.8 645.9L689.2 645.0" fill="none" stroke="#14c81e" stroke-width="5.2"/>
<path d="M689.0 645.5L691.5 644.6M695.3 642.8L697.7 641.8" fill="none" stroke="#14c81e" stroke-width="6.0"/>
<path d="M691.3 645.0L693.7 644.1M697.5 642.3L700.0 641.3" fill="none" stroke="#14c81e" stroke-width="5.8"/>
<path d="M872.6 622.5L874.4 620.2M562.4 756.8L565.0 756.6M498.0 792.9L500.8 793.3M961.2 784.9L963.2 783.4M963.3 795.5L965.5 794.0" fill="none" stroke="#5569a5" stroke-width="1.0"/>
<path d="M876.4 474.0L877.1 476.8M199.6 624.1L201.0 626.2" fill="none" stroke="#0e7818" stroke-width="2.0"/>
<path d="M876.6 476.8L877.3 479.6" fill="none" stroke="#0a6014" stroke-width="1.6"/>
<path d="M608.1 615.6L610.8 616.2" fill="none" stroke="#64c3dc" stroke-width="3.4"/>
<path d="M615.6 616.9L618.3 617.5" fill="none" stroke="#64c3dc" stroke-width="3.0"/>
<path d="M597.0 625.6L599.4 625.6M234.3 870.7L236.3 872.0" fill="none" stroke="#64c3dc" stroke-width="4.4"/>
<path d="M599.2 625.8L601.6 625.8" fill="none" stroke="#64c3dc" stroke-width="4.6"/>
<path d="M601.4 625.8L603.8 625.8" fill="none" stroke="#64d7c3" stroke-width="5.6"/>
<path d="M603.6 626.4L606.0 626.4" fill="none" stroke="#64c3dc" stroke-width="4.0"/>
<path d="M605.8 626.5L608.2 626.5" fill="none" stroke="#64c3dc" stroke-width="6.0"/>
<path d="M607.0 641.9L609.5 642.3M609.4 642.1L611.8 642.5M389.4 570.9L391.2 572.9" fill="none" stroke="#64c3dc" stroke-width="2.4"/>
<path d="M611.7 642.2L614.2 642.6M391.4 572.4L393.2 574.4M340.4 709.7L341.9 711.8M343.1 713.7L344.5 715.9M894.1 732.1L895.8 730.5M895.9 730.9L897.5 729.3" fill="none" stroke="#64c3dc" stroke-width="2.0"/>
<path d="M400.9 577.0L402.5 579.4" fill="none" stroke="#14b41e" stroke-width="2.4"/>
<path d="M406.8 584.8L408.4 587.1" fill="none" stroke="#14b41e" stroke-width="3.8"/>
<path d="M446.0 574.0L447.6 575.6M797.7 739.7L800.2 738.2" fill="none" stroke="#41d76e" stroke-width="3.2"/>
<path d="M487.4 622.8L490.0 623.7M489.7 624.0L492.3 624.9" fill="none" stroke="#5a9bc8" stroke-width="4.6"/>
<path d="M492.3 624.1L495.0 624.9" fill="none" stroke="#5a9bc8" stroke-width="5.0"/>
<path d="M101.4 763.7L102.7 765.6" fill="none" stroke="#0e7818" stroke-width="3.0"/>
<path d="M103.2 767.6L104.6 769.5" fill="none" stroke="#108c1a" stroke-width="2.0"/>
<path d="M319.1 755.2L321.2 757.0" fill="none" stroke="#5a9bc8" stroke-width="3.6"/>
<path d="M430.0 668.0L432.1 669.0M563.7 762.2L566.4 762.0M560.0 757.0L562.6 756.8M488.3 759.9L491.0 759.8M893.2 841.6L895.8 840.3M754.6 868.2L757.2 867.0M840.1 758.2L842.3 757.0" fill="none" stroke="#5569a5" stroke-width="1.4"/>
<path d="M540.0 704.7L542.7 704.8M547.5 704.8L550.2 704.9" fill="none" stroke="#64d7c3" stroke-width="1.8"/>
<path d="M542.5 704.3L545.2 704.4M545.0 705.0L547.7 705.1M469.0 729.1L471.1 730.2" fill="none" stroke="#64d7c3" stroke-width="1.6"/>
<path d="M467.2 727.7L469.3 728.7M786.8 927.5L789.2 926.3M793.5 925.3L796.0 924.2M797.4 922.5L799.9 921.4M799.8 922.1L802.3 921.0M793.0 742.0L795.4 740.4M795.0 740.4L797.5 738.8M799.5 737.6L801.9 736.1" fill="none" stroke="#41d76e" stroke-width="2.0"/>
<path d="M481.0 732.9L483.5 733.8M559.2 784.0L562.3 783.9M975.9 842.3L977.8 840.7M975.9 807.8L978.1 806.7" fill="none" stroke="#5569a5" stroke-width="1.8"/>
<path d="M169.4 940.5L171.6 942.2M174.8 945.7L177.1 947.4" fill="none" stroke="#3a9aa0" stroke-width="4.2"/>
<path d="M170.9 942.6L173.1 944.3M179.3 948.1L181.5 949.8" fill="none" stroke="#3a9aa0" stroke-width="5.6"/>
<path d="M173.2 943.8L175.4 945.4" fill="none" stroke="#3a9aa0" stroke-width="5.2"/>
<path d="M176.8 947.3L179.0 949.0" fill="none" stroke="#3a9aa0" stroke-width="4.6"/>
<path d="M331.3 929.7L333.7 930.9" fill="none" stroke="#14b41e" stroke-width="2.2"/>
<path d="M346.4 933.1L349.0 933.9" fill="none" stroke="#12a01c" stroke-width="1.6"/>
<path d="M348.5 934.1L351.1 934.9M357.2 937.5L359.8 938.3" fill="none" stroke="#12a01c" stroke-width="2.0"/>
<path d="M350.7 934.9L353.3 935.7M354.9 936.9L357.6 937.7M359.7 937.3L362.3 938.1" fill="none" stroke="#12a01c" stroke-width="2.4"/>
<path d="M631.0 804.3L633.9 804.0M540.0 775.9L542.8 775.5M952.7 812.6L954.5 810.9M961.2 805.3L963.1 803.7" fill="none" stroke="#465fa0" stroke-width="5.4"/>
<path d="M633.6 803.2L636.4 802.9" fill="none" stroke="#465fa0" stroke-width="6.2"/>
<path d="M636.2 803.3L639.0 803.1" fill="none" stroke="#465fa0" stroke-width="7.8"/>
<path d="M638.8 804.0L641.7 803.8" fill="none" stroke="#465fa0" stroke-width="6.4"/>
<path d="M641.4 803.5L644.3 803.3" fill="none" stroke="#465fa0" stroke-width="7.0"/>
<path d="M632.0 816.8L634.8 816.8" fill="none" stroke="#5569a5" stroke-width="3.2"/>
<path d="M676.0 820.6L678.4 820.8M542.7 776.0L545.5 775.7M944.2 804.2L946.6 802.6" fill="none" stroke="#465fa0" stroke-width="3.8"/>
<path d="M678.2 820.8L680.7 820.9M917.3 574.2L919.0 572.1M528.2 779.8L530.9 779.6M541.7 779.1L544.4 778.9M571.2 789.8L574.1 789.7M1019.1 819.6L1021.1 817.8" fill="none" stroke="#465fa0" stroke-width="3.6"/>
<path d="M680.5 820.8L682.9 820.9M903.8 568.1L905.2 565.9M566.4 789.6L569.3 789.4" fill="none" stroke="#465fa0" stroke-width="4.0"/>
<path d="M682.7 821.1L685.2 821.2M484.7 777.9L487.5 777.9M956.3 810.0L958.2 808.3M959.4 806.8L961.3 805.1" fill="none" stroke="#465fa0" stroke-width="4.2"/>
<path d="M890.6 711.6L892.4 709.7" fill="none" stroke="#41d76e" stroke-width="3.8"/>
<path d="M901.3 572.2L902.7 570.1M902.7 570.2L904.1 568.1M530.5 779.4L533.1 779.2M554.4 790.5L557.3 790.3M556.8 789.4L559.7 789.3M942.1 806.2L944.6 804.6" fill="none" stroke="#465fa0" stroke-width="3.0"/>
<path d="M909.0 574.6L910.4 577.0" fill="none" stroke="#5569a5" stroke-width="3.6"/>
<path d="M964.8 585.8L966.1 583.6" fill="none" stroke="#41d76e" stroke-width="4.2"/>
<path d="M1013.1 599.3L1013.8 596.8" fill="none" stroke="#64c3dc" stroke-width="0.8"/>
<path d="M893.0 546.0L895.0 548.0" fill="none" stroke="#465fa0" stroke-width="1.5"/>
<path d="M516.4 782.7L519.0 782.7" fill="none" stroke="#5569a5" stroke-width="2.4"/>
<path d="M521.2 783.4L523.8 783.4" fill="none" stroke="#465fa0" stroke-width="2.6"/>
<path d="M545.3 774.8L548.1 774.4M568.8 789.7L571.7 789.6M986.9 817.4L988.6 815.9" fill="none" stroke="#465fa0" stroke-width="4.8"/>
<path d="M559.2 790.2L562.1 790.1" fill="none" stroke="#5569a5" stroke-width="4.0"/>
<path d="M561.6 790.0L564.5 789.8M955.0 811.9L956.9 810.2" fill="none" stroke="#465fa0" stroke-width="4.6"/>
<path d="M880.0 837.9L882.4 836.8" fill="none" stroke="#5569a5" stroke-width="0.8"/>
<path d="M983.2 819.7L985.0 818.2M988.2 815.7L990.0 814.2M1017.8 821.9L1019.8 820.1M1021.4 818.4L1023.4 816.7" fill="none" stroke="#465fa0" stroke-width="4.4"/>
<path d="M985.2 818.7L986.9 817.2" fill="none" stroke="#465fa0" stroke-width="5.6"/>
<path d="M958.3 808.8L960.2 807.1" fill="none" stroke="#465fa0" stroke-width="5.2"/>
</g>
<path d="M679.5 395.2L684.2 392.1L688.6 388.7L693.3 385.6L694.8 381.8L696.5 378.1L701.3 376.5L706.1 374.9L709.4 376.2L712.5 378.1L715.1 381.4L717.9 384.5L721.8 386.2L725.6 388.4L729.6 389.9L733.4 390.1L737.1 389.9L739.2 395.2L735.4 396.8L731.7 398.4L730.6 401.6L729.6 404.8L731.6 408.6L733.9 412.3L736.9 409.4L740.3 406.9L742.6 403.9L744.5 400.5L748.3 398.5L752.0 396.3L755.7 398.4L759.5 400.5L762.7 401.7L765.9 402.7L770.1 401.6L771.2 405.9L772.3 410.1L776.5 412.3M733.9 412.3L733.7 418.1L733.9 424.0L731.0 426.8L728.2 429.7L725.3 432.5L724.4 436.8L723.3 441.1L722.1 445.3L719.0 450.3L715.8 455.3L712.5 460.2L712.1 464.8L711.8 469.5L711.5 474.1M656.0 449.6L661.9 450.1L667.7 450.7L670.6 447.1L673.5 443.6L676.3 440.0L679.3 444.1L682.8 447.7L685.9 451.7L687.8 447.3L690.1 443.2L692.1 447.2L694.2 451.1L696.5 454.9L700.3 453.4L704.0 451.7L707.3 454.5L710.6 457.2L713.6 460.2M752.0 396.3L751.5 401.6L750.9 406.9L750.4 411.2L750.4 415.4L749.9 419.7L752.5 425.1L755.2 430.4L759.5 433.0L763.7 435.7L767.0 439.3L770.9 442.4L774.1 446.2L777.6 449.6L781.3 446.3L785.1 443.2L789.9 442.8L794.7 442.1M711.5 474.1L715.8 473.4L720.0 472.7L724.3 472.0L730.2 471.2L736.0 469.9L740.2 469.9L744.5 469.9L747.6 473.2L750.9 476.3L755.2 476.4L759.5 476.3L762.6 474.1L765.9 472.0L770.2 472.1L774.4 472.3L778.7 472.0L780.0 475.9L781.9 479.5L785.6 481.6L789.3 483.7L792.5 485.9L795.7 488.0L799.0 483.4L801.9 478.6L805.3 474.1L805.7 468.8L806.4 463.5L810.6 463.2L814.8 463.0L819.0 462.4M727.5 472.0L727.5 475.8L727.5 479.5L724.9 482.6L722.5 485.9L720.0 489.1L718.4 492.9L716.9 496.8L715.7 500.8L717.2 504.7L718.6 508.6L720.0 512.5L720.3 516.2L720.0 520.0L720.9 525.4L722.1 530.7L726.9 531.2L731.7 531.7L736.0 531.6L740.2 530.8L744.5 530.7L748.8 533.9M720.0 520.0L716.3 520.6L712.5 521.1L708.5 523.4L704.8 526.2L700.8 528.5L697.6 528.0L694.4 527.5L691.9 525.7L689.1 524.3L685.9 525.3M795.7 488.0L798.8 490.8L802.1 493.3L804.4 497.5L806.4 501.9L805.9 505.1L805.3 508.3L799.5 508.9L793.6 509.3L789.4 512.0L785.1 514.7L781.5 518.6L777.6 522.1L776.8 526.4L776.5 530.7L774.9 533.3L773.3 536.0L768.7 535.4L764.1 535.2L759.5 534.9L754.1 535.2L748.8 534.9M805.3 508.3L810.1 510.9L814.9 513.6L818.2 515.6L821.3 517.9L824.4 516.2L827.7 514.7L832.5 513.8L837.3 512.5L839.5 507.2L844.8 507.2L847.9 511.1L851.2 514.7L856.5 515.7L859.5 512.8L862.9 510.4L866.8 511.6L870.8 512.3L874.7 513.6M748.8 534.9L747.7 540.3L749.6 543.4L750.9 546.7L750.2 550.4L749.9 554.1L747.0 552.2L744.5 549.9L741.3 551.4L738.1 553.1L735.3 557.8L732.8 562.7L729.1 566.1L724.9 569.0L721.1 572.3L721.7 578.1L722.1 584.0L719.3 586.5L716.8 589.3L712.5 589.5L708.3 590.0L704.0 590.4L699.7 592.5L695.5 594.7L691.2 596.8L685.9 598.9L684.6 595.3L683.7 591.5L680.0 590.5M722.1 584.0L726.0 583.0L730.0 581.9L733.9 580.8L739.2 580.0L744.5 579.7L747.7 584.0L750.9 588.3L753.2 590.3L755.2 592.5L759.5 594.0L763.7 595.7L766.9 598.9L770.1 602.1L772.3 607.5L770.1 612.8L773.2 611.1L776.5 609.6L781.1 607.7L785.7 605.8L790.4 604.3L791.3 608.4L792.4 612.5L793.6 616.5M773.3 536.0L778.6 536.7L784.0 536.7L789.3 537.1L793.6 537.4L797.8 537.7L802.1 538.1L805.2 542.9L808.5 547.7L810.6 553.1L812.8 558.4L815.2 561.5L817.1 564.8L821.9 568.0L826.7 571.2L831.4 572.5L836.3 573.3L838.0 575.9L839.5 578.7M817.1 564.8L812.8 568.5L808.5 572.3L808.2 575.5L808.5 578.7L812.8 579.7L810.7 585.1L805.4 586.9L800.0 588.3L796.2 589.1L792.5 590.4L791.9 595.0L791.1 599.7L790.4 604.3" fill="none" stroke="#808080" stroke-width="1.3" stroke-linejoin="round"/>
<path d="M100.5 228.5L104.0 226.5L108.4 225.0L110.1 227.1L112.0 229.0L113.6 232.3L116.0 235.0L117.9 237.1L120.0 239.0L122.2 241.3L124.0 244.0L128.0 244.5L131.0 248.0L135.0 250.0L137.0 252.0L138.1 256.2L140.0 260.0L139.7 262.5L139.0 265.0L143.0 266.0L143.1 268.7L143.0 271.4L147.3 271.4L151.6 271.4L152.4 267.0L150.5 264.6L149.0 262.0L152.0 259.6L154.3 261.6L157.0 263.0L161.0 264.0L165.0 265.0L167.4 268.3L169.0 272.0L166.7 275.6L164.0 279.0L161.4 280.3L159.0 282.0L156.7 284.2L155.0 287.0L153.9 289.7L152.0 292.0L148.0 293.0L148.7 296.1L150.0 299.0L148.9 302.3L149.2 305.8L148.0 309.0L148.0 312.5L148.0 316.0L145.2 318.7L143.0 322.0L141.4 324.9L140.0 328.0L142.8 329.7L146.0 330.6L149.1 329.8L152.0 328.6L156.5 328.5L161.0 329.0L161.3 332.4L162.3 335.7L163.0 339.0L164.4 342.4L165.0 346.0L167.6 349.4L170.0 353.0L171.3 355.9L171.6 359.0L167.1 360.8L163.0 363.4L160.8 365.9L158.0 367.6L153.9 367.9L150.0 369.0L148.3 372.7L146.0 376.0L144.6 379.9L142.4 383.4L144.0 386.3L146.0 389.0L148.5 390.1L151.0 391.0L150.0 394.0L149.0 397.0L146.8 399.2L144.4 401.0L148.0 401.5L151.5 402.2L155.0 403.0L158.2 405.9L162.0 408.0L162.0 412.0L166.0 411.6L170.0 411.0L173.8 410.3L177.4 408.8L181.0 407.6L184.3 407.2L187.6 406.8L191.0 407.0L194.0 406.3L197.0 405.6L200.4 407.5L204.0 409.0L206.8 410.4L209.0 412.6L213.5 412.1L218.0 412.0L221.0 414.0L225.5 415.2L230.0 416.0L234.6 417.8L239.0 420.0L242.5 419.0L245.7 417.1L249.0 415.6L252.7 415.7L256.3 414.9L260.0 415.0L262.3 413.3L264.0 411.0L265.9 408.4L268.0 406.0L271.4 405.1L275.0 405.0L277.5 402.5L280.0 400.0L282.9 398.5L286.0 397.6L289.7 397.0L293.4 397.0L297.0 396.0L300.3 394.9L303.6 393.7L307.0 393.0L311.0 392.7L315.0 392.0L314.5 388.7L314.4 385.3L314.0 382.0L315.0 378.7L315.1 375.3L316.0 372.0L315.9 367.5L316.4 363.0L314.1 361.8L312.4 360.0L313.9 356.1L315.0 352.0L316.6 348.7L319.0 346.0L322.7 344.8L325.8 342.3L329.7 341.4L333.0 339.4L334.3 336.3L335.0 333.0L336.7 330.6L338.0 328.0L341.3 326.7L344.0 324.5L347.4 321.6L351.0 319.0L353.4 316.4L355.4 313.6L356.8 316.3L358.4 319.0L363.0 318.8L367.5 319.7L372.0 320.0L373.3 323.1L375.0 326.0L378.4 327.6L375.8 330.0L373.0 332.0L372.2 335.1L371.0 338.0L371.4 341.3L371.5 344.7L371.0 348.0L368.0 349.0L366.0 345.0L364.2 346.8L362.0 348.0L362.2 351.4L361.9 354.7L361.0 358.0L358.1 360.2L355.0 362.0L356.0 365.0L357.0 368.0L358.8 370.2L361.0 372.0L359.3 374.9L356.6 377.1L355.0 380.0L354.0 383.3L353.7 386.7L353.0 390.0L352.4 394.1L351.0 398.0L348.7 399.4L346.4 401.0L346.7 404.5L346.0 408.0L349.2 409.4L352.0 411.6L355.3 412.4L358.7 412.8L362.0 413.6L364.3 417.0L367.2 419.9L370.0 423.0L371.5 426.1L373.0 429.2L375.0 432.0L374.5 436.5L374.0 441.0L372.1 444.7L369.9 448.3L368.0 452.0L366.3 454.8L364.0 457.0L365.0 460.0L367.8 462.8L370.0 466.0L370.9 470.5L371.0 475.0L368.9 478.5L367.3 482.3L365.6 486.0L369.9 486.7L374.0 488.0L377.9 489.4L382.0 490.0L385.3 489.0L388.6 488.3L392.0 488.0L393.9 485.9L396.0 484.0L400.0 484.3L404.0 484.1L408.0 484.0L409.5 487.3L411.8 490.1L414.0 493.0L417.2 494.9L420.6 496.6L424.0 498.0L427.9 499.8L432.0 501.0L435.0 500.5L438.0 500.0L439.6 503.3L441.8 506.1L444.0 509.0L445.7 512.0L447.2 515.1L449.0 518.0L449.0 522.0L451.5 523.5L454.0 525.0L455.9 522.9L458.0 521.0L459.7 523.1L461.6 525.0L461.6 528.5L462.4 532.0L466.3 532.3L470.2 531.8L474.0 532.4L478.0 535.0L482.5 535.2L487.0 535.6L489.9 533.5L493.0 531.6L495.4 534.6L498.7 536.6L501.4 539.2L504.0 542.0L507.7 544.9L511.0 548.0L514.0 551.6L511.6 553.9L509.0 556.0L507.1 559.0L505.0 562.0L506.4 566.0L508.0 570.0L511.8 568.0L516.0 567.0L517.5 564.5L518.0 561.6L521.5 563.4L525.5 564.2L529.0 566.0L532.0 568.3L534.8 570.9L538.0 573.0L541.3 576.2L544.0 580.0L545.3 583.2L546.3 586.6L547.0 590.0L549.0 591.5L551.0 593.0L548.8 595.3L547.0 598.0L550.3 601.7L554.0 605.0L554.2 608.0L554.0 611.0L551.8 612.9L549.0 614.0L551.8 615.7L554.0 618.0L555.3 620.4L556.4 623.0L558.4 620.7L561.0 619.0L565.5 618.3L570.0 618.0L574.1 616.8L578.0 615.0L580.0 612.5L582.0 610.0L585.0 609.4L588.0 609.2L591.0 610.0L594.0 611.0L596.2 615.2L599.0 619.0L600.9 617.3L602.0 615.0L602.7 611.0L603.0 607.0L605.7 603.2L609.0 600.0L612.1 599.1L615.0 597.6L618.9 599.2L623.0 600.0L626.0 601.8L629.0 603.6L632.9 602.4L637.0 602.0L641.0 603.6L643.2 600.9L645.0 598.0L646.0 594.0L650.0 593.0L652.8 595.3L656.0 597.0L659.5 599.7L663.5 601.5L663.6 604.6L664.5 607.5L667.1 606.1L669.9 605.3L670.8 609.0L670.9 612.8L673.5 615.3L676.4 617.4L679.5 619.2L683.4 620.1L687.4 620.1L691.2 621.3L694.4 620.9L697.6 621.3L701.8 623.0L706.1 624.5L708.5 627.0L711.5 628.8L712.3 633.7L713.6 638.4L714.1 641.1L714.7 643.7L718.2 643.8L721.8 643.7L725.3 643.7L728.4 645.1L731.7 645.8L733.8 642.6L736.0 639.5L739.3 639.4L742.4 638.4L745.6 641.0L748.8 643.7L749.8 640.5L750.9 637.3L754.9 635.7L758.4 633.1L760.2 630.0L761.6 626.7L765.3 625.5L769.1 624.5L769.6 621.7L771.2 619.2L775.8 618.7L780.4 618.2L785.1 618.1L788.6 617.7L792.1 616.9L795.7 617.1L798.9 618.1L802.1 619.2L804.9 621.8L807.5 624.5L809.9 627.4L812.8 629.9L816.5 631.5L819.8 633.7L823.5 635.2L826.7 636.7L829.9 638.2L833.1 639.5L837.1 639.1L841.0 638.4L844.8 637.3L848.4 634.9L852.3 633.1L855.1 635.0L857.6 637.3L862.0 637.9L866.1 639.5L869.6 641.3L873.5 642.6L876.8 644.8L879.7 646.7L882.0 649.3L885.0 651.0L888.1 652.9L891.0 655.0L892.6 657.4L894.0 660.0L891.7 662.7L889.0 665.0L889.0 668.0L891.3 669.8L894.0 671.0L898.0 672.0L902.0 673.0L903.0 677.0L904.0 681.0L907.0 684.0L904.3 685.7L902.0 688.0L899.0 688.4L896.0 688.0L897.0 690.9L897.0 694.0L899.7 696.8L903.0 699.0L903.7 702.1L905.0 705.0L908.3 708.2L912.0 711.0L914.5 713.3L917.3 715.0L920.0 717.0L924.2 719.1L928.0 722.0L927.7 725.4L926.4 728.6L926.0 732.0L929.7 734.2L933.0 737.0L933.6 741.0L934.4 745.0L935.0 749.0L937.8 750.9L941.0 752.0L943.5 752.3L946.0 752.0L946.7 755.5L947.0 759.0L944.6 762.8L941.6 766.0L943.3 769.0L945.0 772.0L947.4 774.6L950.0 777.0L954.0 776.2L958.0 776.3L962.0 776.0L965.5 777.0L968.7 778.5L972.0 780.0L975.7 781.8L979.6 783.0L981.7 780.8L983.0 778.0L983.1 775.4L984.0 773.0L987.0 770.0L985.3 766.1L984.0 762.0L982.0 758.5L980.0 755.0L983.8 752.9L987.0 750.0L989.8 752.0L992.8 753.6L996.0 755.0L999.9 753.1L1004.0 752.0L1007.1 751.3L1010.0 750.0L1013.4 753.6L1017.0 757.0L1019.9 756.0L1023.0 756.0L1026.1 758.8L1029.0 761.7L1032.0 764.5M663.5 602.5L667.6 600.4L672.0 598.9L674.2 596.2L676.9 593.9L679.5 591.5L680.0 588.1L681.6 585.1L677.8 583.7L674.1 581.9L676.3 580.3L678.4 578.7L679.2 575.1L680.6 571.6L681.6 568.0L684.1 563.9L685.9 559.5L689.1 558.9L692.3 558.4L692.2 554.1L692.5 549.9L692.3 545.6L689.7 543.1L686.3 541.7L683.7 539.2L683.6 535.4L682.7 531.7L685.2 529.3L686.9 526.4L685.2 522.4L682.7 518.9L678.4 517.9L673.6 517.7L668.8 516.8L667.6 512.4L665.4 508.3L663.8 504.0L662.4 499.7L660.3 496.1L658.9 492.1L656.9 488.5L654.9 484.8L650.0 484.1L645.3 482.7L644.3 479.0L643.8 475.2L643.3 471.4L642.1 467.7L642.8 463.4L643.2 459.0L645.0 455.4L646.4 451.7L650.6 449.4L654.9 447.4L653.1 445.0L650.7 443.2L647.7 440.9L644.6 438.6L641.5 436.5L642.7 432.3L644.3 428.3L646.2 423.8L647.8 419.1L649.7 414.6L651.7 410.1L655.1 409.5L658.1 407.9L661.3 406.9L663.5 402.7L667.6 400.2L672.0 398.4L670.5 394.2L668.9 390.0L667.7 385.6L671.1 382.6L674.1 379.2L674.6 374.3L675.9 369.6L676.5 364.8L677.3 360.0L681.0 356.7L684.8 353.6L686.6 349.4L688.8 345.3L690.1 340.8L693.6 338.2L696.9 335.2L700.4 332.6L704.0 330.1L705.8 325.7L708.3 321.6L709.1 318.1L710.1 314.6L710.4 310.9L714.6 309.6L718.9 309.1L723.1 308.1L727.5 307.7L729.1 311.5L730.7 315.2L735.2 316.3L740.0 316.2L744.5 317.3L745.4 314.4L745.6 311.4L749.2 311.9L752.7 312.6L756.3 313.1L757.8 316.4L759.5 319.5M759.5 319.5L758.5 322.6L758.4 325.9L762.7 328.0L765.9 327.6L767.4 324.8L768.0 321.6L764.5 318.8L761.9 318.6L759.5 319.5M762.7 328.0L761.9 331.5L760.7 335.0L760.5 338.7L760.7 343.0L761.6 347.2L760.1 350.7L758.6 354.3L757.3 357.9L757.3 361.1L756.9 364.3L759.6 367.3L761.6 370.7L762.0 374.2L762.6 377.7L762.7 381.3L764.8 385.4L765.9 389.9L768.2 393.4L771.2 396.3L772.2 399.8L772.1 403.5L773.3 406.9L776.5 406.9L779.7 406.9L781.1 410.0L781.9 413.3L785.6 413.7L789.3 414.4L790.3 419.1L790.4 424.0L791.4 427.6L792.7 431.1L793.6 434.7L796.7 438.1L798.9 442.1L802.3 444.0L805.4 446.3L808.5 448.5L812.6 451.1L817.1 452.8L818.4 456.6L818.8 460.7L820.2 464.5L822.9 462.8L825.6 461.3L829.3 460.6L833.0 460.2L835.6 462.6L838.0 465.2L840.5 467.7L843.8 470.2L846.9 473.1L850.6 474.0L854.3 474.9L858.0 475.8L861.8 476.2L864.5 475.1L867.2 474.1L870.0 476.3L873.1 478.1L875.7 480.5L878.9 478.9L882.1 477.3L884.3 481.6L880.8 484.5L877.9 488.0L879.3 491.1L880.5 494.3L881.1 497.6L880.2 501.7L878.5 505.5L876.8 509.3L876.7 513.6L876.4 517.9L880.0 518.9L877.5 521.7L875.1 524.7L872.5 527.5L868.6 529.9L865.4 533.1L861.9 536.0L858.7 539.3L856.4 543.3L853.3 546.7L856.5 549.9L855.7 554.2L854.3 558.4L853.3 562.7L852.0 566.2L849.6 569.0L848.0 572.3L845.2 574.9L842.0 576.9L839.2 579.5L836.3 581.9L839.5 585.1L835.6 585.8L832.0 587.2L832.9 590.9L833.1 594.7L835.2 597.9L833.7 601.7L832.6 605.6L832.0 609.6L832.6 613.3L833.0 617.1L834.1 620.7L834.1 624.5L834.2 628.3L834.4 632.0L834.2 635.8L834.6 639.5M764.5 318.8L764.4 315.4L763.7 312.0L766.0 310.8L768.0 309.2L771.6 309.5L775.1 308.1L778.7 308.4L779.0 307.1L778.4 303.9L778.2 300.6L777.6 297.3L776.8 294.1L775.0 291.3L772.5 289.0L773.4 285.7L774.6 282.6L777.2 282.5L779.7 281.8L782.6 278.2L784.7 275.9L786.2 273.2L789.4 271.7L792.7 270.3L796.7 269.4L800.6 268.1L803.9 268.4L807.1 268.1L809.0 266.1L810.7 263.8L809.3 260.9L810.4 258.1L810.7 255.1L812.1 251.6L814.3 248.6L815.7 245.9L816.5 242.9L819.3 241.7L822.3 241.4L824.4 242.9L826.6 244.3L829.6 246.3L832.4 248.6L834.5 245.8L837.1 244.0L839.6 242.2L843.2 242.2L846.8 241.4L846.6 238.2L846.8 234.9L844.7 232.4L842.5 229.9L839.4 227.5L836.0 225.6L834.2 223.0L832.4 220.5L829.5 218.0L826.6 215.5L828.5 212.7L830.2 209.7L832.8 206.4L834.5 202.5L834.4 199.2L835.2 196.0L836.6 192.4L838.1 188.8L838.1 184.8L837.4 180.8L834.8 180.6L832.4 179.4L829.7 177.3L826.6 175.8L825.7 173.2L826.4 168.5L829.7 165.8L826.7 165.3L823.7 164.5L819.8 162.1L816.3 159.1L811.6 160.4L808.3 159.1L804.8 158.4L800.8 160.4L798.1 159.1L794.3 160.6L790.7 162.4L788.0 158.4L786.5 154.9L784.6 151.7L781.8 149.4L778.6 147.6L781.3 144.3L778.8 141.7L775.9 139.6L776.1 136.5L775.2 133.5L778.1 131.8L780.6 129.5L783.0 126.5L786.0 124.1L788.0 121.1L790.7 118.7L795.4 117.4L796.8 114.0L798.9 112.1L800.8 110.0L802.3 106.9L804.2 103.9L802.1 100.5L798.8 101.0L795.4 101.2L792.9 99.8L790.0 99.2L786.6 99.2L783.3 98.8L779.9 98.5L776.6 101.2L775.4 97.3L773.2 93.8L773.7 91.1L773.9 88.4L772.3 85.0L770.5 81.7L768.2 79.2L766.8 76.1L764.5 73.6L762.6 70.0L761.4 66.2L759.1 62.8L757.3 59.9L755.7 56.8L751.4 57.2L747.2 57.4L742.9 57.5L739.9 55.9L736.7 54.9L733.5 54.0L732.8 58.8L730.9 56.4L728.8 54.1L727.1 51.1L725.9 47.8L725.0 44.5M733.5 54.0L733.8 50.0L733.1 47.3L732.8 44.5" fill="none" stroke="#000" stroke-width="3.1" stroke-linejoin="round" stroke-linecap="round"/>
<circle cx="567.8" cy="429.4" r="5.1" fill="#f00" stroke="#000" stroke-width="1.1"/>
</g>
<rect x="101.5" y="45.4" width="929.9" height="924.0" fill="none" stroke="#000" stroke-width="1.1"/>
<path d="M101.5 969.4v4.9M256.5 969.4v4.9M411.5 969.4v4.9M566.5 969.4v4.9M721.4 969.4v4.9M876.4 969.4v4.9M1031.4 969.4v4.9M101.5 969.4h-4.9M101.5 853.9h-4.9M101.5 738.4h-4.9M101.5 622.9h-4.9M101.5 507.4h-4.9M101.5 391.9h-4.9M101.5 276.4h-4.9M101.5 160.9h-4.9M101.5 45.4h-4.9" fill="none" stroke="#000" stroke-width="1.1"/>
<g font-family="Liberation Sans, sans-serif" fill="#000">
<text x="101.5" y="992.7" font-size="17.2" text-anchor="middle" textLength="25.2" lengthAdjust="spacingAndGlyphs" >4.0</text>
<text x="256.5" y="992.7" font-size="17.2" text-anchor="middle" textLength="25.2" lengthAdjust="spacingAndGlyphs" >4.5</text>
<text x="411.5" y="992.7" font-size="17.2" text-anchor="middle" textLength="25.2" lengthAdjust="spacingAndGlyphs" >5.0</text>
<text x="566.5" y="992.7" font-size="17.2" text-anchor="middle" textLength="25.2" lengthAdjust="spacingAndGlyphs" >5.5</text>
<text x="721.4" y="992.7" font-size="17.2" text-anchor="middle" textLength="25.2" lengthAdjust="spacingAndGlyphs" >6.0</text>
<text x="876.4" y="992.7" font-size="17.2" text-anchor="middle" textLength="25.2" lengthAdjust="spacingAndGlyphs" >6.5</text>
<text x="1031.4" y="992.7" font-size="17.2" text-anchor="middle" textLength="25.2" lengthAdjust="spacingAndGlyphs" >7.0</text>
<text x="90.4" y="975.6" font-size="17.2" text-anchor="end" textLength="46.2" lengthAdjust="spacingAndGlyphs" >48.75</text>
<text x="90.4" y="860.1" font-size="17.2" text-anchor="end" textLength="46.2" lengthAdjust="spacingAndGlyphs" >49.00</text>
<text x="90.4" y="744.6" font-size="17.2" text-anchor="end" textLength="46.2" lengthAdjust="spacingAndGlyphs" >49.25</text>
<text x="90.4" y="629.1" font-size="17.2" text-anchor="end" textLength="46.2" lengthAdjust="spacingAndGlyphs" >49.50</text>
<text x="90.4" y="513.6" font-size="17.2" text-anchor="end" textLength="46.2" lengthAdjust="spacingAndGlyphs" >49.75</text>
<text x="90.4" y="398.1" font-size="17.2" text-anchor="end" textLength="46.2" lengthAdjust="spacingAndGlyphs" >50.00</text>
<text x="90.4" y="282.6" font-size="17.2" text-anchor="end" textLength="46.2" lengthAdjust="spacingAndGlyphs" >50.25</text>
<text x="90.4" y="167.1" font-size="17.2" text-anchor="end" textLength="46.2" lengthAdjust="spacingAndGlyphs" >50.50</text>
<text x="90.4" y="51.6" font-size="17.2" text-anchor="end" textLength="46.2" lengthAdjust="spacingAndGlyphs" >50.75</text>
<text x="566.0" y="38.1" font-size="36.8" text-anchor="middle" textLength="524.4" lengthAdjust="spacingAndGlyphs" >26.01.2026 18:35 - 18:39 UTC</text>
<text x="561.0" y="1024.6" font-size="28.3" text-anchor="middle" textLength="138.2" lengthAdjust="spacingAndGlyphs" >Longitude</text>
<text transform="translate(34.4,509.8) rotate(-90)" font-size="28.3" text-anchor="middle" textLength="114.3" lengthAdjust="spacingAndGlyphs">Latitude</text>
</g>
<rect x="107.4" y="51.6" width="266.2" height="49.8" fill="#fff" stroke="#000" stroke-width="1.1"/>
<g font-family="Liberation Sans, sans-serif" fill="#000">
<text x="113.0" y="70.7" font-size="17" text-anchor="start" textLength="254.7" lengthAdjust="spacingAndGlyphs" >Product: Maximum Reflectivity</text>
<text x="113.0" y="91.7" font-size="17" text-anchor="start" textLength="93.0" lengthAdjust="spacingAndGlyphs" >Data: RMIB</text>
</g>
<rect x="1089.3" y="893.20" width="41.3" height="30.30" fill="#6478aa"/>
<rect x="1089.3" y="863.50" width="41.3" height="30.30" fill="#5569a5"/>
<rect x="1089.3" y="833.80" width="41.3" height="30.30" fill="#465fa0"/>
<rect x="1089.3" y="804.10" width="41.3" height="30.30" fill="#4b7db4"/>
<rect x="1089.3" y="774.40" width="41.3" height="30.30" fill="#5a9bc8"/>
<rect x="1089.3" y="744.70" width="41.3" height="30.30" fill="#64c3dc"/>
<rect x="1089.3" y="715.00" width="41.3" height="30.30" fill="#64d7c3"/>
<rect x="1089.3" y="685.30" width="41.3" height="30.30" fill="#41d76e"/>
<rect x="1089.3" y="655.60" width="41.3" height="30.30" fill="#14c81e"/>
<rect x="1089.3" y="625.90" width="41.3" height="30.30" fill="#14b41e"/>
<rect x="1089.3" y="596.20" width="41.3" height="30.30" fill="#12a01c"/>
<rect x="1089.3" y="566.50" width="41.3" height="30.30" fill="#108c1a"/>
<rect x="1089.3" y="536.80" width="41.3" height="30.30" fill="#0e7818"/>
<rect x="1089.3" y="507.10" width="41.3" height="30.30" fill="#0a6014"/>
<rect x="1089.3" y="477.40" width="41.3" height="30.30" fill="#4b7d0a"/>
<rect x="1089.3" y="447.70" width="41.3" height="30.30" fill="#aeb20c"/>
<rect x="1089.3" y="418.00" width="41.3" height="30.30" fill="#ffdc0a"/>
<rect x="1089.3" y="388.30" width="41.3" height="30.30" fill="#ffb900"/>
<rect x="1089.3" y="358.60" width="41.3" height="30.30" fill="#ff9b00"/>
<rect x="1089.3" y="328.90" width="41.3" height="30.30" fill="#ff7d00"/>
<rect x="1089.3" y="299.20" width="41.3" height="30.30" fill="#e60000"/>
<rect x="1089.3" y="269.50" width="41.3" height="30.30" fill="#c30000"/>
<rect x="1089.3" y="239.80" width="41.3" height="30.30" fill="#a00000"/>
<rect x="1089.3" y="210.10" width="41.3" height="30.30" fill="#7d0000"/>
<rect x="1089.3" y="180.40" width="41.3" height="30.30" fill="#ffdcff"/>
<rect x="1089.3" y="150.70" width="41.3" height="30.30" fill="#ffaaff"/>
<rect x="1089.3" y="121.00" width="41.3" height="30.30" fill="#ff64fa"/>
<rect x="1089.3" y="91.30" width="41.3" height="30.30" fill="#eb32eb"/>
<rect x="1089.3" y="91.6" width="41.3" height="831.6" fill="none" stroke="#000" stroke-width="1.1"/>
<path d="M1130.6 923.2h4.9M1130.6 804.4h4.9M1130.6 685.6h4.9M1130.6 566.8h4.9M1130.6 448.0h4.9M1130.6 329.2h4.9M1130.6 210.4h4.9M1130.6 91.6h4.9" fill="none" stroke="#000" stroke-width="1.1"/>
<g font-family="Liberation Sans, sans-serif" fill="#000">
<text x="1140.8" y="933.5" font-size="28.6" text-anchor="start" textLength="16.6" lengthAdjust="spacingAndGlyphs" >0</text>
<text x="1140.8" y="814.7" font-size="28.6" text-anchor="start" textLength="33.2" lengthAdjust="spacingAndGlyphs" >10</text>
<text x="1140.8" y="695.9" font-size="28.6" text-anchor="start" textLength="33.2" lengthAdjust="spacingAndGlyphs" >20</text>
<text x="1140.8" y="577.1" font-size="28.6" text-anchor="start" textLength="33.2" lengthAdjust="spacingAndGlyphs" >30</text>
<text x="1140.8" y="458.3" font-size="28.6" text-anchor="start" textLength="33.2" lengthAdjust="spacingAndGlyphs" >40</text>
<text x="1140.8" y="339.5" font-size="28.6" text-anchor="start" textLength="33.2" lengthAdjust="spacingAndGlyphs" >50</text>
<text x="1140.8" y="220.7" font-size="28.6" text-anchor="start" textLength="33.2" lengthAdjust="spacingAndGlyphs" >60</text>
<text x="1140.8" y="101.9" font-size="28.6" text-anchor="start" textLength="33.2" lengthAdjust="spacingAndGlyphs" >70</text>
<text transform="translate(1204.3,509.2) rotate(-90)" font-size="28.3" text-anchor="middle" textLength="55.7" lengthAdjust="spacingAndGlyphs">dBZ</text>
</g>
</svg></body></html>
